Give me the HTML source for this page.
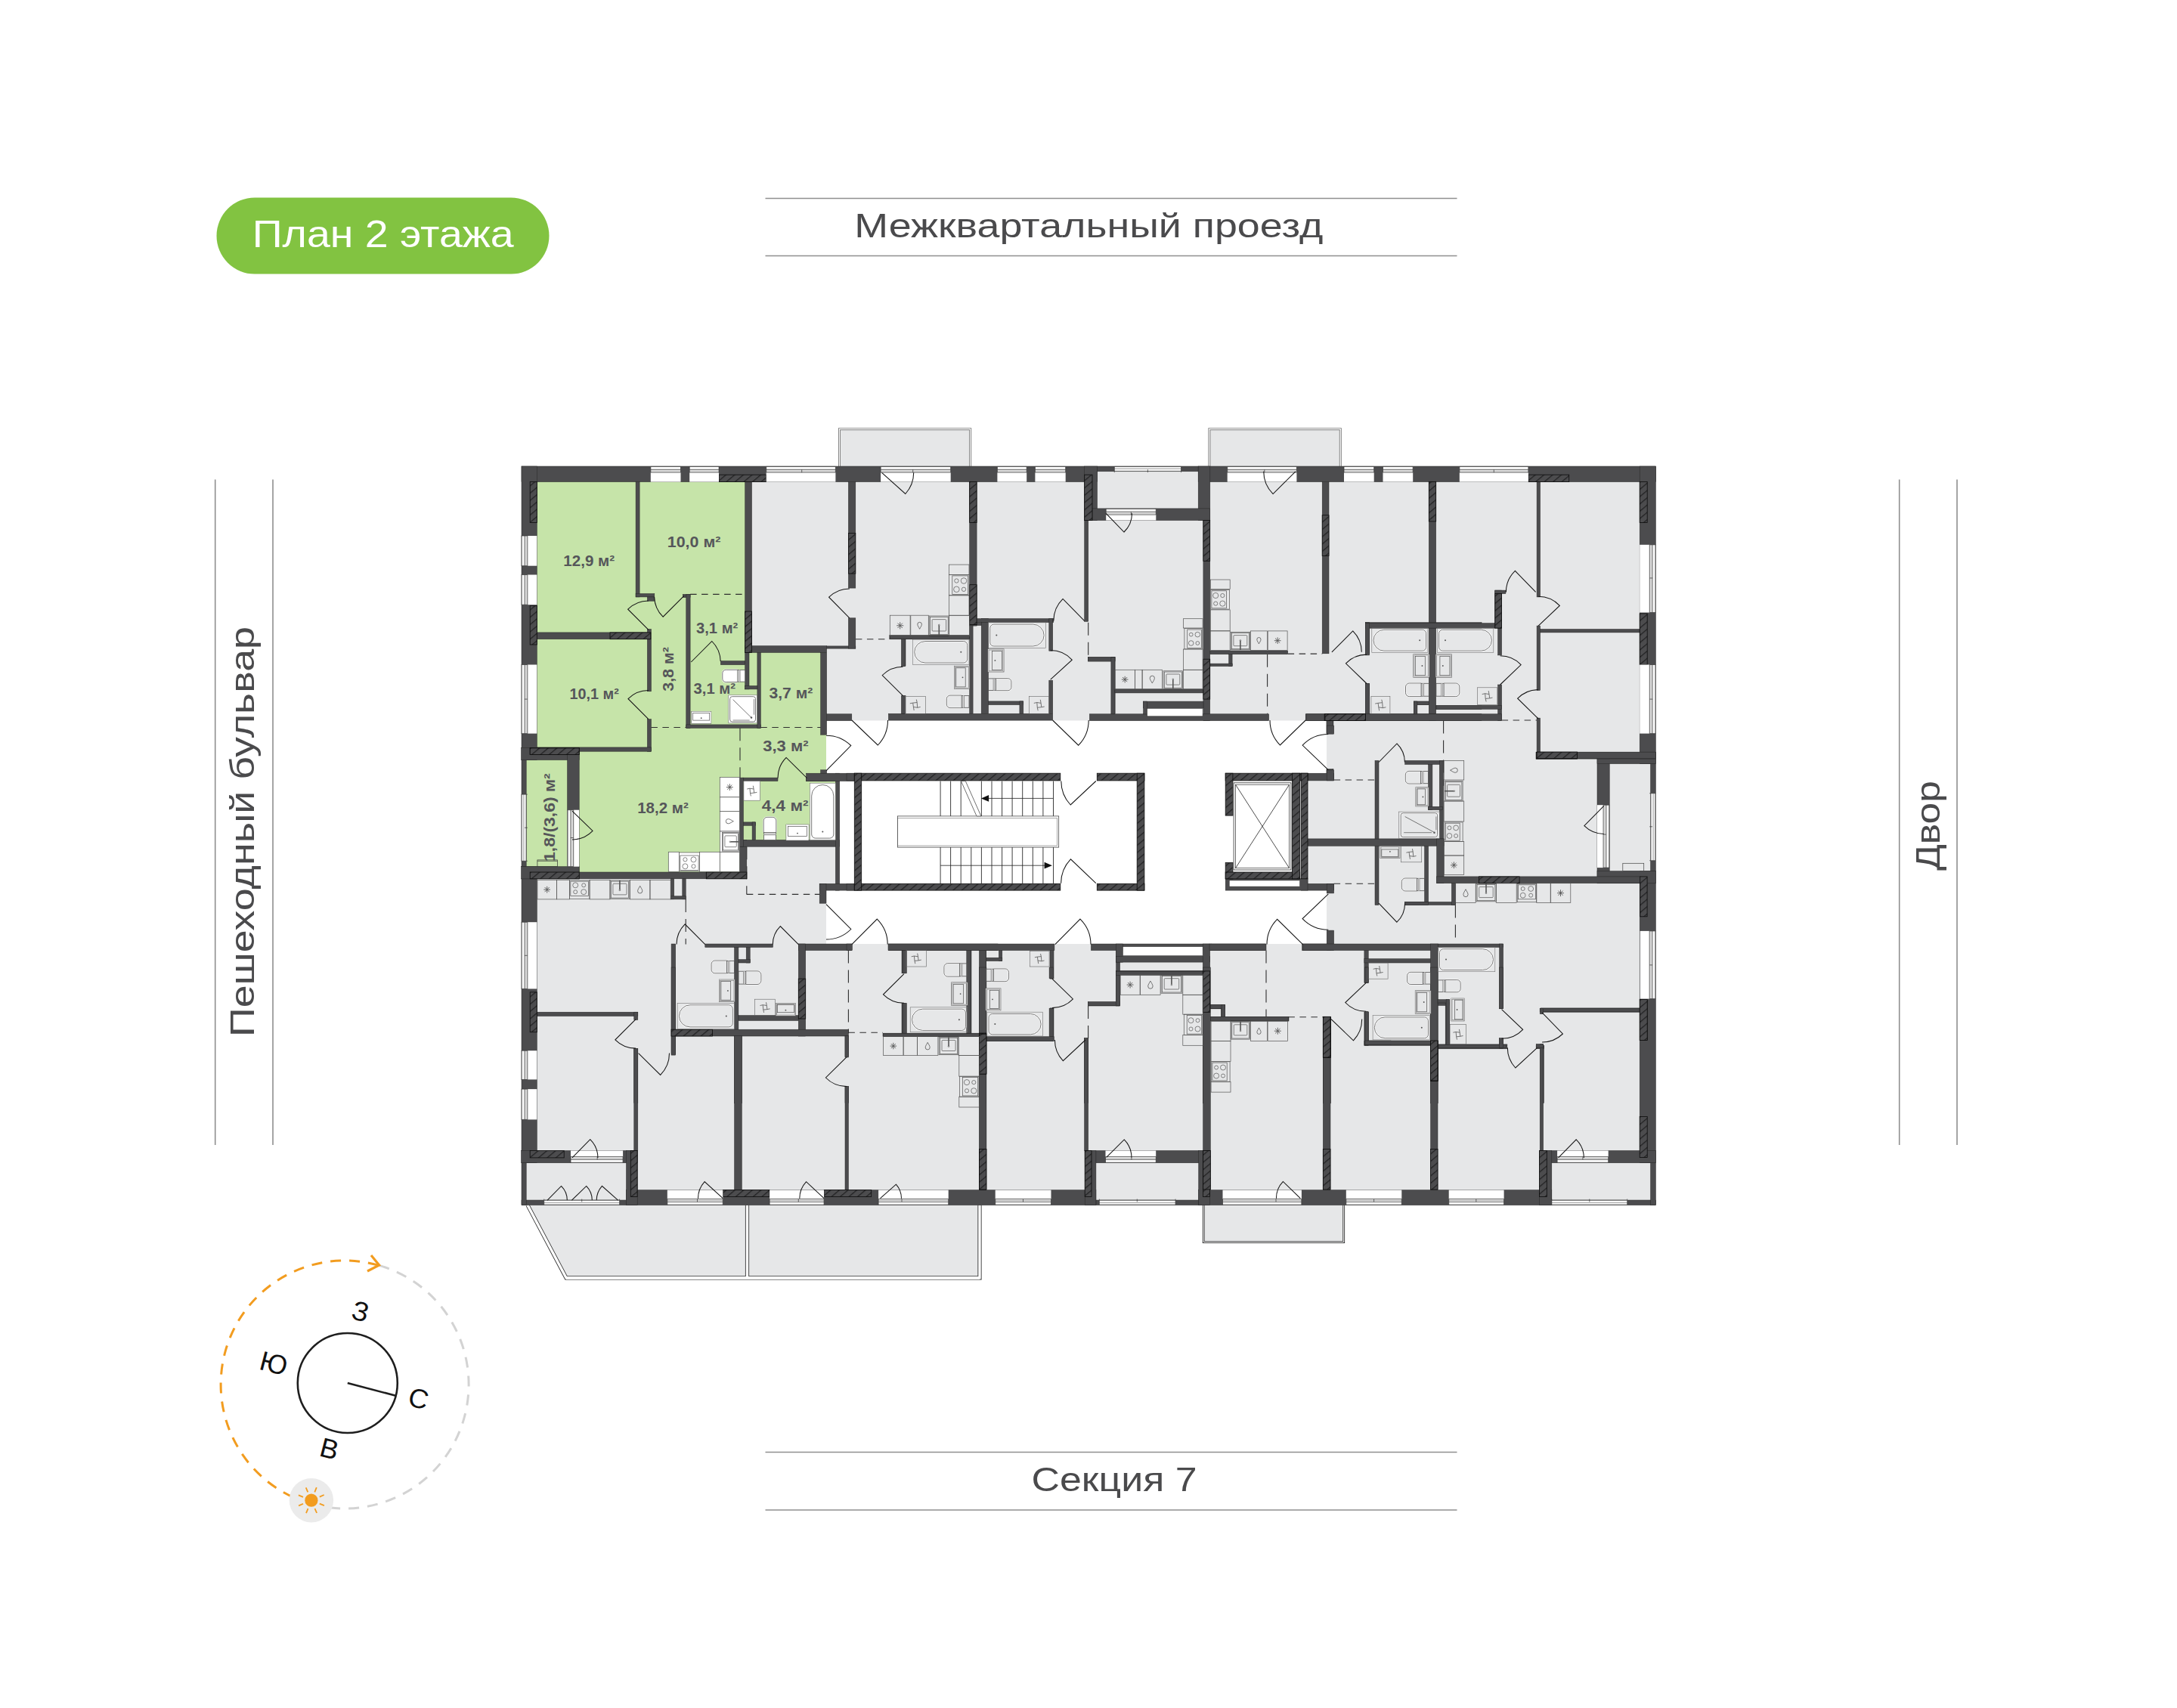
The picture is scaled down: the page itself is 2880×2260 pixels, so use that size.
<!DOCTYPE html>
<html><head><meta charset="utf-8"><title>План 2 этажа</title>
<style>html,body{margin:0;padding:0;background:#fff}svg{display:block}text{font-family:"Liberation Sans",sans-serif}</style></head>
<body>
<svg width="2880" height="2260" viewBox="0 0 2880 2260">
<defs><pattern id="hp" width="7.4" height="7.4" patternUnits="userSpaceOnUse" patternTransform="rotate(-40)"><rect width="7.4" height="7.4" fill="#4c4c4e"/><path d="M0 3.5H7.4" stroke="#0c0c0c" stroke-width="0.85"/></pattern></defs>
<rect width="2880" height="2260" fill="#fff"/>
<g><rect x="690" y="617" width="1500" height="977.6" fill="#e6e7e8"/>
<rect x="1110.5" y="567.7" width="173.2" height="49.3" fill="#e6e7e8"/>
<path d="M1110.5 617L1110.5 567.7L1283.7 567.7L1283.7 617" fill="none" stroke="#777" stroke-width="3.0"/>
<path d="M1110.5 617L1110.5 567.7L1283.7 567.7L1283.7 617" fill="none" stroke="#fff" stroke-width="1.2"/>
<rect x="1599.9" y="567.7" width="173.4" height="49.3" fill="#e6e7e8"/>
<path d="M1599.9 617L1599.9 567.7L1773.3 567.7L1773.3 617" fill="none" stroke="#777" stroke-width="3.0"/>
<path d="M1599.9 617L1599.9 567.7L1773.3 567.7L1773.3 617" fill="none" stroke="#fff" stroke-width="1.2"/>
<rect x="1592.2" y="1594.6" width="185.5" height="49" fill="#e6e7e8"/>
<path d="M1592.2 1594.6L1592.2 1643.6L1777.7 1643.6L1777.7 1594.6" fill="none" stroke="#333" stroke-width="2.8"/>
<path d="M1592.2 1594.6L1592.2 1643.6L1777.7 1643.6L1777.7 1594.6" fill="none" stroke="#fff" stroke-width="1.0"/>
<rect x="988.5" y="1594.6" width="307.5" height="96.3" fill="#e6e7e8"/>
<path d="M698 1594.6L749 1690.9L988.5 1690.9L988.5 1594.6Z" fill="#e6e7e8"/>
<path d="M698 1594.6L749 1690.9L1296 1690.9L1296 1594.6" fill="none" stroke="#333" stroke-width="5.2"/>
<path d="M698 1594.6L749 1690.9L1296 1690.9L1296 1594.6" fill="none" stroke="#fff" stroke-width="3.4"/>
<path d="M988.5 1594.6L988.5 1690.9" fill="none" stroke="#333" stroke-width="5.2"/>
<path d="M988.5 1594.6L988.5 1690.9" fill="none" stroke="#fff" stroke-width="3.4"/>
<path d="M749 1690.9L1296 1690.9" fill="none" stroke="#fff" stroke-width="3.7"/>
<path d="M1093 953.6H1755V1023H1730V1178H1755V1249H1093V1178H1110V1023H1093Z" fill="#fff"/>
<path d="M700 630H990V860H1093V1030H1106V1115H983V1158H766V1150H696.2V1003H700Z" fill="#c6e4a9"/></g>
<g fill="none" stroke="#2e2e2e" stroke-width="1.1" stroke-dasharray="8.5 6.5"><path d="M913.1 786.4L985.7 786.4" />
<path d="M861.4 962.5L907.8 962.5" />
<path d="M1006.3 962.5L1085.7 962.5" />
<path d="M979 963.3L979 1039.8" stroke-dasharray="17 9"/>
<path d="M1131.9 845.7L1176.8 845.7" />
<path d="M1439.7 823.7L1439.7 869.8" stroke-dasharray="17 9"/>
<path d="M1676.6 865.7L1676.6 944.8" stroke-dasharray="17 9"/>
<path d="M1703.6 865.1L1749.2 865.1" />
<path d="M1986.6 953L2033.1 953" />
<path d="M1909.6 953.6L1909.6 1039.8" stroke-dasharray="17 9"/>
<path d="M987.8 1120.2L987.8 1183.4" stroke-dasharray="17 9"/>
<path d="M987.8 1183.4L1084.2 1183.4" />
<path d="M907.2 1189.9L907.2 1249.6" stroke-dasharray="17 9"/>
<path d="M1122.4 1257.5L1122.4 1367.2" stroke-dasharray="17 9"/>
<path d="M1122.4 1366.3L1168 1366.3" />
<path d="M1439.6 1331L1439.6 1373.9" stroke-dasharray="17 9"/>
<path d="M1764.6 1032L1819 1032" />
<path d="M1764.6 1169.3L1819 1169.3" />
<path d="M1925.4 1197.5L1925.4 1249" stroke-dasharray="17 9"/>
<path d="M1675 1257.5L1675 1345.7" stroke-dasharray="17 9"/>
<path d="M1704.4 1345.7L1750.5 1345.7" /></g>
<g fill="#4c4c4e" stroke="#262626" stroke-width="0.5"><rect x="690" y="617" width="761.4" height="20.6" />
<rect x="1451.4" y="617" width="133.8" height="6.8" />
<rect x="1585.2" y="617" width="605.2" height="20.6" />
<rect x="690" y="1588" width="138.5" height="6.6" />
<rect x="828.5" y="1574.6" width="621.4" height="20" />
<rect x="1449.9" y="1588" width="135.8" height="6.6" />
<rect x="1585.7" y="1574.6" width="467.1" height="20" />
<rect x="2052.8" y="1588" width="137.6" height="6.6" />
<rect x="690" y="617" width="20.3" height="388.6" />
<rect x="690" y="1005.6" width="6.2" height="141.1" />
<rect x="690" y="1146.7" width="20.3" height="392" />
<rect x="690" y="1538.7" width="6.2" height="55.9" />
<rect x="2169.2" y="617" width="21.2" height="393.6" />
<rect x="2183.6" y="1010.6" width="6.8" height="142" />
<rect x="2169.2" y="1152.6" width="21.2" height="386.1" />
<rect x="2183.6" y="1538.7" width="6.8" height="55.9" />
<rect x="1434.7" y="617" width="16.8" height="71.4" />
<rect x="1585.2" y="617" width="15.6" height="71.4" />
<rect x="1444.9" y="672.9" width="155.8" height="15.6" />
<rect x="1435.2" y="1522.5" width="165.2" height="16.2" />
<rect x="1435.2" y="1522.5" width="14.7" height="72" />
<rect x="1585.7" y="1522.5" width="14.7" height="72" />
<rect x="689.7" y="989.4" width="76.4" height="16.2" />
<rect x="750.6" y="998.2" width="15.6" height="164.6" />
<rect x="689.7" y="1146.7" width="76.4" height="16.2" />
<rect x="2032.2" y="995.3" width="158.2" height="8.8" />
<rect x="2113" y="995.3" width="16.2" height="173.4" />
<rect x="2113" y="1004.1" width="77.3" height="6.5" />
<rect x="2113" y="1152.6" width="77.3" height="16.2" />
<rect x="689.7" y="1522.5" width="153.5" height="16.2" />
<rect x="828.5" y="1522.5" width="14.7" height="72" />
<rect x="2036.6" y="1522.5" width="153.8" height="16.2" />
<rect x="2036.6" y="1522.5" width="16.2" height="72" />
<rect x="841.1" y="637.6" width="5" height="152.3" />
<rect x="841.1" y="785.5" width="24.7" height="4.4" />
<rect x="856.4" y="789.9" width="9.4" height="5.3" />
<rect x="985.7" y="637.6" width="8.8" height="225.8" />
<rect x="985.7" y="854.6" width="107.9" height="8.8" />
<rect x="1093.6" y="854.9" width="38.2" height="3.2" />
<rect x="1122.4" y="637.6" width="9.4" height="140.5" />
<rect x="1122.4" y="817.8" width="9.4" height="40.3" />
<rect x="1085.7" y="863.4" width="7.9" height="108.8" />
<rect x="710.3" y="836.9" width="150.5" height="8.8" />
<rect x="856.4" y="832.5" width="5" height="82.3" />
<rect x="856.4" y="951.6" width="5" height="42.6" />
<rect x="710.3" y="988.9" width="151.1" height="5.3" />
<rect x="903.4" y="786.4" width="9.7" height="4.1" />
<rect x="907.8" y="786.4" width="5.3" height="177" />
<rect x="907.8" y="958.9" width="98.5" height="4.4" />
<rect x="1001.9" y="863.4" width="4.4" height="100" />
<rect x="953.4" y="874.6" width="32.3" height="5" />
<rect x="985.7" y="863.4" width="5.3" height="48.5" />
<rect x="985.7" y="907.5" width="16.2" height="4.4" />
<rect x="1176.8" y="840.5" width="105.8" height="5.3" />
<rect x="1193" y="845.7" width="5" height="35.3" />
<rect x="1193" y="920.7" width="5" height="24.1" />
<rect x="1282.7" y="637.6" width="9.4" height="190.5" />
<rect x="1282.7" y="827.5" width="4.4" height="116.9" />
<rect x="1298.2" y="818.6" width="9.3" height="125.7" />
<rect x="1291.6" y="818.6" width="102.2" height="4.9" />
<rect x="1291.6" y="823.5" width="6.6" height="4" />
<rect x="1387.8" y="818.6" width="4.9" height="42.6" />
<rect x="1387.8" y="900.2" width="4.9" height="44.1" />
<rect x="1175.4" y="944.3" width="217.3" height="8.8" />
<rect x="1177.3" y="841.4" width="105.4" height="4.1" />
<rect x="1192.6" y="845.5" width="4.9" height="36.3" />
<rect x="1192.6" y="920.8" width="4.9" height="23.5" />
<rect x="1307.4" y="927.9" width="46.3" height="4.7" />
<rect x="1348.9" y="927.9" width="4.9" height="16.5" />
<rect x="1439.3" y="869.6" width="35.7" height="4.9" />
<rect x="1470.2" y="869.6" width="4.9" height="74.7" />
<rect x="1093.6" y="944.8" width="33.2" height="8.8" />
<rect x="1434.7" y="688.5" width="5" height="133.8" />
<rect x="1591.9" y="688.5" width="8.8" height="265.2" />
<rect x="1749.2" y="637.6" width="8.8" height="227.2" />
<rect x="1890.3" y="637.6" width="9.4" height="316" />
<rect x="1441.4" y="944.8" width="237.2" height="8.8" />
<rect x="1727.2" y="944.8" width="232.8" height="8.8" />
<rect x="1439.7" y="869.8" width="35.3" height="5.3" />
<rect x="1469.9" y="869.8" width="5" height="75" />
<rect x="1474.9" y="911.9" width="117" height="5" />
<rect x="1512.6" y="928.1" width="79.4" height="8.8" />
<rect x="1512.6" y="928.1" width="5" height="16.8" />
<rect x="1600.8" y="861" width="102.9" height="4.7" />
<rect x="1625.7" y="865.7" width="4.4" height="15.9" />
<rect x="1600.8" y="878.1" width="29.4" height="3.5" />
<rect x="1806.5" y="823.7" width="153.5" height="7.3" />
<rect x="1806.5" y="823.7" width="5" height="41.2" />
<rect x="1806.5" y="904.5" width="5" height="40.3" />
<rect x="1870.3" y="928.1" width="20" height="4.4" />
<rect x="1870.3" y="928.1" width="4.4" height="16.8" />
<rect x="1899.7" y="933.9" width="60.3" height="4.4" />
<rect x="1755.1" y="953.6" width="8.8" height="17.1" />
<rect x="1755.1" y="1017.7" width="8.8" height="11.8" />
<rect x="1806.4" y="824.6" width="171.4" height="6.5" />
<rect x="1806.4" y="824.6" width="5.3" height="42.3" />
<rect x="1806.4" y="904.5" width="5.3" height="41.2" />
<rect x="1981.6" y="831" width="5" height="35.9" />
<rect x="1981.6" y="906" width="5" height="47.6" />
<rect x="1977.8" y="781.1" width="8.8" height="50" />
<rect x="1977.8" y="781.1" width="14.1" height="4.4" />
<rect x="1727.9" y="944.8" width="258.7" height="8.8" />
<rect x="1870.5" y="928.1" width="20" height="4.4" />
<rect x="1870.5" y="928.1" width="4.4" height="16.8" />
<rect x="1899.9" y="933.3" width="86.7" height="5" />
<rect x="2033.1" y="637.6" width="4.4" height="152.3" />
<rect x="2033.1" y="828.1" width="4.4" height="85.3" />
<rect x="2033.1" y="950.1" width="4.4" height="45.6" />
<rect x="2037.5" y="832.5" width="131.7" height="4.4" />
<rect x="2033.1" y="995.1" width="157.3" height="8.5" />
<rect x="1755" y="953.6" width="8.8" height="17.1" />
<rect x="1755" y="1018.6" width="8.8" height="10.9" />
<rect x="766.1" y="1154" width="221.7" height="8.8" />
<rect x="978.4" y="1111.4" width="9.4" height="51.4" />
<rect x="978.4" y="1111.4" width="132.3" height="8.8" />
<rect x="1105.4" y="1023.2" width="5.3" height="154.9" />
<rect x="982.8" y="1029.1" width="46.2" height="4.4" />
<rect x="1066.6" y="1028.2" width="38.8" height="5.3" />
<rect x="978.4" y="1029.1" width="5" height="91.1" />
<rect x="983.4" y="1087.9" width="16.2" height="4.4" />
<rect x="995.1" y="1087.9" width="4.4" height="23.5" />
<rect x="1085.7" y="1018.8" width="7.9" height="14.7" />
<rect x="1066.6" y="1023.2" width="63.2" height="10.3" />
<rect x="1084.2" y="1169.3" width="45.6" height="8.8" />
<rect x="1084.2" y="1169.3" width="8.8" height="25.9" />
<rect x="887.3" y="1162.8" width="4.4" height="27" />
<rect x="902.8" y="1162.8" width="4.4" height="27" />
<rect x="887.3" y="1185.8" width="20" height="4.1" />
<rect x="888.1" y="1249" width="5.6" height="146.1" />
<rect x="932.8" y="1249" width="89.7" height="4.4" />
<rect x="971.6" y="1253.4" width="5.3" height="108.8" />
<rect x="987.2" y="1253.4" width="5" height="20.6" />
<rect x="976.9" y="1269.6" width="15.3" height="4.4" />
<rect x="1056.3" y="1249" width="70.6" height="8.5" />
<rect x="1056.3" y="1249" width="9.4" height="122" />
<rect x="976.9" y="1343.6" width="79.4" height="6.8" />
<rect x="888.1" y="1362.2" width="234.3" height="8.8" />
<rect x="971.6" y="1371" width="9.7" height="88.8" />
<rect x="1118" y="1371" width="4.4" height="27" />
<rect x="1118" y="1437.7" width="4.4" height="22" />
<rect x="710.3" y="1339.2" width="133.5" height="5.3" />
<rect x="838.8" y="1339.2" width="5" height="10.3" />
<rect x="838.8" y="1387.7" width="5" height="72" />
<rect x="1193" y="1257.5" width="5" height="30.3" />
<rect x="1193" y="1327.5" width="5" height="39.7" />
<rect x="1175.4" y="1249" width="144.6" height="8.5" />
<rect x="1279.7" y="1257.5" width="5.3" height="109.7" />
<rect x="1295.9" y="1257.5" width="8.8" height="202.3" />
<rect x="1168" y="1367.2" width="136.7" height="4.4" />
<rect x="1120" y="1023.2" width="10.3" height="9.7" />
<rect x="1120" y="1169.3" width="10.3" height="8.8" />
<rect x="1721.2" y="1162.8" width="8.8" height="15.3" />
<rect x="1621.2" y="1162.8" width="108.8" height="15.3" />
<rect x="1120" y="1249" width="7.3" height="8.5" />
<rect x="1175" y="1249" width="219.9" height="8.5" />
<rect x="1443.4" y="1249" width="158.8" height="8.5" />
<rect x="1476.6" y="1257.5" width="5" height="73.5" />
<rect x="1476.6" y="1249" width="8.8" height="24.1" />
<rect x="1476.6" y="1265.2" width="124.1" height="7.9" />
<rect x="1476.6" y="1284.3" width="124.1" height="5" />
<rect x="1591.3" y="1249" width="9.4" height="210.8" />
<rect x="1602.1" y="1249" width="72" height="8.5" />
<rect x="1722.7" y="1249" width="37.3" height="8.5" />
<rect x="1439.6" y="1326" width="42" height="5" />
<rect x="1194.1" y="1257.5" width="5.3" height="30.3" />
<rect x="1194.1" y="1327.5" width="5.3" height="39.7" />
<rect x="1168.5" y="1367.2" width="127.9" height="4.4" />
<rect x="1278.8" y="1257.5" width="5.3" height="109.7" />
<rect x="1295.8" y="1257.5" width="8.8" height="202.3" />
<rect x="1321.4" y="1257.5" width="4.4" height="14.1" />
<rect x="1304.6" y="1267.2" width="21.2" height="4.4" />
<rect x="1389" y="1257.5" width="5" height="37.6" />
<rect x="1389" y="1333.9" width="5" height="43.5" />
<rect x="1304.6" y="1372.2" width="89.4" height="5.3" />
<rect x="1434.6" y="1373.9" width="5" height="85.8" />
<rect x="1602.1" y="1329.8" width="17.6" height="5" />
<rect x="1615.4" y="1329.8" width="4.4" height="18.2" />
<rect x="1602.1" y="1345.7" width="102.9" height="5.3" />
<rect x="1750.6" y="1345.7" width="9.4" height="114.1" />
<rect x="1755.2" y="960" width="9.4" height="11.2" />
<rect x="1730.2" y="1023.2" width="34.4" height="9.7" />
<rect x="1755.2" y="1018.8" width="9.4" height="14.1" />
<rect x="1730.2" y="1169.3" width="34.4" height="8.8" />
<rect x="1755.2" y="1169.3" width="9.4" height="12.6" />
<rect x="1755.2" y="1231.1" width="9.4" height="26.5" />
<rect x="1730.2" y="1109.9" width="179.9" height="9.4" />
<rect x="1819" y="1006.4" width="5" height="103.5" />
<rect x="1819" y="1119.3" width="5" height="78.2" />
<rect x="1858.7" y="1006.4" width="50.9" height="5" />
<rect x="1889.6" y="1011.4" width="5.3" height="60.3" />
<rect x="1904.3" y="1006.4" width="5.3" height="103.5" />
<rect x="1889.6" y="1067.3" width="19.1" height="4.4" />
<rect x="1900.7" y="1109.9" width="9.4" height="58.8" />
<rect x="1900.7" y="1159.9" width="269.6" height="8.8" />
<rect x="1884.6" y="1119.3" width="5" height="74.4" />
<rect x="1858.7" y="1193.4" width="67" height="4.1" />
<rect x="1920.4" y="1168.7" width="5.3" height="28.8" />
<rect x="1858.7" y="1193.7" width="30.9" height="3.8" />
<rect x="1600" y="1249" width="75" height="8.5" />
<rect x="1723.5" y="1249" width="178.7" height="8.5" />
<rect x="1902.2" y="1249" width="86.4" height="4.4" />
<rect x="1983.6" y="1249" width="5" height="85.8" />
<rect x="1983.6" y="1374.5" width="5" height="13.2" />
<rect x="1804.9" y="1257.5" width="5.3" height="42.9" />
<rect x="1804.9" y="1339.2" width="5.3" height="44.1" />
<rect x="1804.9" y="1268.7" width="87.6" height="5.3" />
<rect x="1804.9" y="1377.5" width="87.6" height="5.9" />
<rect x="1892.5" y="1249" width="9.7" height="210.8" />
<rect x="1902.2" y="1326" width="15.3" height="4.4" />
<rect x="1912.2" y="1326" width="5.3" height="57.3" />
<rect x="1902.2" y="1381.9" width="91.7" height="5.9" />
<rect x="2038" y="1333.9" width="131.7" height="5.3" />
<rect x="2038" y="1383.3" width="4.4" height="76.4" />
<rect x="2032.2" y="1383.3" width="10.3" height="4.4" />
<rect x="1750.5" y="1345.7" width="9.7" height="114.1" />
<rect x="1600" y="1329.8" width="20.6" height="5" />
<rect x="1616.2" y="1329.8" width="4.4" height="18.2" />
<rect x="1600" y="1345.7" width="104.4" height="5.3" />
<rect x="838.8" y="1387.3" width="5" height="135.2" />
<rect x="888.1" y="1280" width="5.6" height="116.1" />
<rect x="971.6" y="1370.5" width="9.7" height="204" />
<rect x="1118" y="1370.5" width="4.4" height="28.5" />
<rect x="1118" y="1437.3" width="4.4" height="137.3" />
<rect x="1295.9" y="1368.2" width="8.8" height="206.4" />
<rect x="1295.5" y="1280" width="9.4" height="294.6" />
<rect x="1305" y="1371.7" width="89.1" height="5.9" />
<rect x="1388.1" y="1280" width="5.3" height="14.7" />
<rect x="1388.1" y="1334.4" width="5.3" height="37.3" />
<rect x="1434.6" y="1373.5" width="5" height="149" />
<rect x="1439.6" y="1325.6" width="42" height="5" />
<rect x="1476.3" y="1285.9" width="5.3" height="44.7" />
<rect x="1476.3" y="1285.3" width="115.2" height="5" />
<rect x="1591.6" y="1280" width="9.7" height="294.6" />
<rect x="1601.3" y="1329.4" width="19.1" height="5" />
<rect x="1616" y="1329.4" width="4.4" height="18.2" />
<rect x="1601.3" y="1345.3" width="102.9" height="5.3" />
<rect x="1750.3" y="1345.3" width="9.7" height="229.3" />
<rect x="1805.6" y="1280" width="4.4" height="20.6" />
<rect x="1805.6" y="1338.8" width="4.4" height="42.6" />
<rect x="1805.6" y="1377" width="34.4" height="5.3" />
<rect x="1805.8" y="1280" width="4.4" height="20.6" />
<rect x="1805.8" y="1338.8" width="4.4" height="43.5" />
<rect x="1805.8" y="1377" width="86.7" height="5.3" />
<rect x="1892.6" y="1280" width="9.4" height="294.6" />
<rect x="1902" y="1322.6" width="15.6" height="4.4" />
<rect x="1913.1" y="1322.6" width="4.4" height="59.7" />
<rect x="1902" y="1382.3" width="90.5" height="4.1" />
<rect x="1983.7" y="1280" width="5" height="54.4" />
<rect x="1983.7" y="1373.5" width="5" height="12.9" />
<rect x="2037.2" y="1334.4" width="132" height="4.4" />
<rect x="2037.2" y="1334.4" width="4.4" height="7.3" />
<rect x="2037.2" y="1381.4" width="4.4" height="141.1" />
<rect x="2032.2" y="1381.4" width="9.4" height="5" /></g>
<g fill="url(#hp)" stroke="#0c0c0c" stroke-width="0.8"><rect x="1434.7" y="628.2" width="10.3" height="60.3" />
<rect x="1435.2" y="1522.5" width="8.8" height="60.9" />
<rect x="1591.6" y="1522.5" width="8.8" height="60.9" />
<rect x="701.2" y="989.4" width="65" height="8.8" />
<rect x="701.2" y="1154" width="65" height="8.8" />
<rect x="2032.2" y="995.3" width="54.4" height="8.8" />
<rect x="701.2" y="1522.5" width="45" height="9.4" />
<rect x="834.3" y="1522.5" width="8.8" height="60.9" />
<rect x="2036.6" y="1522.5" width="9.7" height="60.9" />
<rect x="701.2" y="637.6" width="9.1" height="53.8" />
<rect x="701.2" y="801.6" width="9.1" height="51.4" />
<rect x="951.1" y="628.2" width="62.6" height="9.4" />
<rect x="701.2" y="1312.8" width="9.1" height="52.9" />
<rect x="2021.9" y="628.2" width="53.8" height="9.4" />
<rect x="2169.2" y="637.6" width="10" height="53.8" />
<rect x="2169.2" y="811.9" width="10" height="67.6" />
<rect x="2169.7" y="1159.9" width="9.4" height="52.9" />
<rect x="2169.7" y="1323.1" width="9.4" height="52.9" />
<rect x="2169.2" y="1322.6" width="10" height="53.8" />
<rect x="2169.2" y="1477.6" width="10" height="53.8" />
<rect x="956.3" y="1574.6" width="61.7" height="8.8" />
<rect x="1090.1" y="1574.6" width="62.6" height="8.8" />
<rect x="985.7" y="809" width="8.8" height="54.4" />
<rect x="1122.4" y="705.5" width="9.4" height="53.5" />
<rect x="807" y="836.9" width="53.8" height="8.8" />
<rect x="701.2" y="989.8" width="65" height="8.8" />
<rect x="1282.7" y="637.6" width="9.4" height="53.8" />
<rect x="1282.7" y="773.7" width="9.4" height="52.9" />
<rect x="1591.9" y="688.5" width="8.8" height="53.8" />
<rect x="1591.9" y="872.2" width="8.8" height="52.9" />
<rect x="1749.2" y="681.7" width="8.8" height="53.8" />
<rect x="1890.3" y="637.6" width="9.4" height="52.3" />
<rect x="1752.2" y="944.8" width="54.4" height="8.8" />
<rect x="1977.8" y="785.5" width="8.8" height="45.6" />
<rect x="1752.9" y="944.8" width="53.5" height="8.8" />
<rect x="2033.1" y="995.1" width="53.5" height="8.5" />
<rect x="934.3" y="1154" width="53.5" height="8.8" />
<rect x="1056.3" y="1295.1" width="9.4" height="52.9" />
<rect x="888.1" y="1362.2" width="54.4" height="8.8" />
<rect x="1295.9" y="1367.2" width="8.8" height="52.9" />
<rect x="1130.3" y="1023.2" width="272.5" height="9.7" />
<rect x="1451.3" y="1023.2" width="62.6" height="9.7" />
<rect x="1130.3" y="1169.3" width="272.5" height="8.8" />
<rect x="1451.3" y="1169.3" width="62.6" height="8.8" />
<rect x="1130.3" y="1023.2" width="9.4" height="154.9" />
<rect x="1504.2" y="1023.2" width="9.7" height="154.9" />
<rect x="1621.2" y="1023.2" width="108.8" height="9.7" />
<rect x="1621.2" y="1023.2" width="9.7" height="55.9" />
<rect x="1621.2" y="1141.4" width="9.7" height="21.5" />
<rect x="1621.2" y="1154" width="98.5" height="8.8" />
<rect x="1709.4" y="1023.2" width="10.3" height="139.6" />
<rect x="1721.2" y="1023.2" width="8.8" height="139.6" />
<rect x="1591.3" y="1284.9" width="9.4" height="54.4" />
<rect x="1295.8" y="1367.2" width="8.8" height="52.9" />
<rect x="1750.6" y="1345.7" width="9.4" height="52.3" />
<rect x="1956.6" y="1159.9" width="53.5" height="8.8" />
<rect x="1892.5" y="1377.5" width="9.7" height="52.9" />
<rect x="1750.5" y="1345.7" width="9.7" height="53.8" />
<rect x="1295.9" y="1368.2" width="8.8" height="52.9" />
<rect x="1295.9" y="1520.5" width="8.8" height="53.5" />
<rect x="1295.5" y="1368.2" width="9.4" height="52.9" />
<rect x="1295.5" y="1520.5" width="9.4" height="53.5" />
<rect x="1591.6" y="1522.5" width="9.7" height="51.4" />
<rect x="1750.3" y="1345.3" width="9.7" height="53.8" />
<rect x="1750.3" y="1520.5" width="9.7" height="53.5" />
<rect x="1892.6" y="1377" width="9.4" height="52.9" />
<rect x="1892.6" y="1520.5" width="9.4" height="53.5" /></g>
<g fill="none" stroke="#333"><rect x="860.8" y="617" width="39.7" height="20.6" fill="#fff" stroke="none"/>
<path d="M860.8 617.4L900.5 617.4" stroke-width="0.9"/>
<path d="M860.8 621.3L900.5 621.3" stroke-width="0.8"/>
<path d="M860.8 623.2L900.5 623.2" stroke-width="0.4"/>
<path d="M860.8 625.1L900.5 625.1" stroke-width="0.8"/>
<path d="M860.8 617L860.8 625.1" stroke-width="0.7"/>
<path d="M900.5 617L900.5 625.1" stroke-width="0.7"/>
<rect x="912.2" y="617" width="38.8" height="20.6" fill="#fff" stroke="none"/>
<path d="M912.2 617.4L951.1 617.4" stroke-width="0.9"/>
<path d="M912.2 621.3L951.1 621.3" stroke-width="0.8"/>
<path d="M912.2 623.2L951.1 623.2" stroke-width="0.4"/>
<path d="M912.2 625.1L951.1 625.1" stroke-width="0.8"/>
<path d="M912.2 617L912.2 625.1" stroke-width="0.7"/>
<path d="M951.1 617L951.1 625.1" stroke-width="0.7"/>
<rect x="1013.7" y="617" width="91.7" height="20.6" fill="#fff" stroke="none"/>
<path d="M1013.7 617.4L1105.4 617.4" stroke-width="0.9"/>
<path d="M1013.7 621.3L1105.4 621.3" stroke-width="0.8"/>
<path d="M1013.7 623.2L1105.4 623.2" stroke-width="0.4"/>
<path d="M1013.7 625.1L1105.4 625.1" stroke-width="0.8"/>
<path d="M1013.7 617L1013.7 625.1" stroke-width="0.7"/>
<path d="M1105.4 617L1105.4 625.1" stroke-width="0.7"/>
<path d="M1060.7 621.3L1060.7 625.1" stroke-width="0.7"/>
<rect x="1165.1" y="617" width="92.6" height="20.6" fill="#fff" stroke="none"/>
<path d="M1165.1 617.4L1257.7 617.4" stroke-width="0.9"/>
<path d="M1165.1 621.3L1257.7 621.3" stroke-width="0.8"/>
<path d="M1165.1 623.2L1257.7 623.2" stroke-width="0.4"/>
<path d="M1165.1 625.1L1257.7 625.1" stroke-width="0.8"/>
<path d="M1165.1 617L1165.1 625.1" stroke-width="0.7"/>
<path d="M1257.7 617L1257.7 625.1" stroke-width="0.7"/>
<path d="M1207.7 621.3L1207.7 625.1" stroke-width="0.7"/>
<rect x="1319.4" y="617" width="38.8" height="20.6" fill="#fff" stroke="none"/>
<path d="M1319.4 617.4L1358.2 617.4" stroke-width="0.9"/>
<path d="M1319.4 621.3L1358.2 621.3" stroke-width="0.8"/>
<path d="M1319.4 623.2L1358.2 623.2" stroke-width="0.4"/>
<path d="M1319.4 625.1L1358.2 625.1" stroke-width="0.8"/>
<path d="M1319.4 617L1319.4 625.1" stroke-width="0.7"/>
<path d="M1358.2 617L1358.2 625.1" stroke-width="0.7"/>
<rect x="1369.4" y="617" width="40.3" height="20.6" fill="#fff" stroke="none"/>
<path d="M1369.4 617.4L1409.7 617.4" stroke-width="0.9"/>
<path d="M1369.4 621.3L1409.7 621.3" stroke-width="0.8"/>
<path d="M1369.4 623.2L1409.7 623.2" stroke-width="0.4"/>
<path d="M1369.4 625.1L1409.7 625.1" stroke-width="0.8"/>
<path d="M1369.4 617L1369.4 625.1" stroke-width="0.7"/>
<path d="M1409.7 617L1409.7 625.1" stroke-width="0.7"/>
<rect x="1623.7" y="617" width="91.7" height="20.6" fill="#fff" stroke="none"/>
<path d="M1623.7 617.4L1715.4 617.4" stroke-width="0.9"/>
<path d="M1623.7 621.3L1715.4 621.3" stroke-width="0.8"/>
<path d="M1623.7 623.2L1715.4 623.2" stroke-width="0.4"/>
<path d="M1623.7 625.1L1715.4 625.1" stroke-width="0.8"/>
<path d="M1623.7 617L1623.7 625.1" stroke-width="0.7"/>
<path d="M1715.4 617L1715.4 625.1" stroke-width="0.7"/>
<path d="M1672.8 621.3L1672.8 625.1" stroke-width="0.7"/>
<rect x="1778" y="617" width="39.7" height="20.6" fill="#fff" stroke="none"/>
<path d="M1778 617.4L1817.7 617.4" stroke-width="0.9"/>
<path d="M1778 621.3L1817.7 621.3" stroke-width="0.8"/>
<path d="M1778 623.2L1817.7 623.2" stroke-width="0.4"/>
<path d="M1778 625.1L1817.7 625.1" stroke-width="0.8"/>
<path d="M1778 617L1778 625.1" stroke-width="0.7"/>
<path d="M1817.7 617L1817.7 625.1" stroke-width="0.7"/>
<rect x="1829.5" y="617" width="39.7" height="20.6" fill="#fff" stroke="none"/>
<path d="M1829.5 617.4L1869.2 617.4" stroke-width="0.9"/>
<path d="M1829.5 621.3L1869.2 621.3" stroke-width="0.8"/>
<path d="M1829.5 623.2L1869.2 623.2" stroke-width="0.4"/>
<path d="M1829.5 625.1L1869.2 625.1" stroke-width="0.8"/>
<path d="M1829.5 617L1829.5 625.1" stroke-width="0.7"/>
<path d="M1869.2 617L1869.2 625.1" stroke-width="0.7"/>
<rect x="1930.8" y="617" width="91.1" height="20.6" fill="#fff" stroke="none"/>
<path d="M1930.8 617.4L2021.9 617.4" stroke-width="0.9"/>
<path d="M1930.8 621.3L2021.9 621.3" stroke-width="0.8"/>
<path d="M1930.8 623.2L2021.9 623.2" stroke-width="0.4"/>
<path d="M1930.8 625.1L2021.9 625.1" stroke-width="0.8"/>
<path d="M1930.8 617L1930.8 625.1" stroke-width="0.7"/>
<path d="M2021.9 617L2021.9 625.1" stroke-width="0.7"/>
<path d="M1976.3 621.3L1976.3 625.1" stroke-width="0.7"/>
<rect x="1474.3" y="617" width="88.2" height="6.8" fill="#fff" stroke="none"/>
<path d="M1474.3 617.4L1562.5 617.4" stroke-width="0.9"/>
<path d="M1474.3 620.2L1562.5 620.2" stroke-width="0.5"/>
<path d="M1474.3 623.4L1562.5 623.4" stroke-width="0.8"/>
<path d="M1474.3 617L1474.3 625.1" stroke-width="0.7"/>
<path d="M1562.5 617L1562.5 625.1" stroke-width="0.7"/>
<path d="M1518.4 621.3L1518.4 625.1" stroke-width="0.7"/>
<rect x="1463.2" y="672.9" width="66.1" height="15.6" fill="#fff" stroke="none"/>
<path d="M1463.2 673.3L1529.3 673.3" stroke-width="0.9"/>
<path d="M1463.2 677.2L1529.3 677.2" stroke-width="0.8"/>
<path d="M1463.2 679.1L1529.3 679.1" stroke-width="0.4"/>
<path d="M1463.2 681L1529.3 681" stroke-width="0.8"/>
<path d="M1463.2 672.9L1463.2 681" stroke-width="0.7"/>
<path d="M1529.3 672.9L1529.3 681" stroke-width="0.7"/>
<path d="M1496.4 677.2L1496.4 681" stroke-width="0.7"/>
<rect x="689.7" y="709" width="20.6" height="39.7" fill="#fff" stroke="none"/>
<path d="M690.1 709L690.1 748.7" stroke-width="0.9"/>
<path d="M694 709L694 748.7" stroke-width="0.8"/>
<path d="M695.9 709L695.9 748.7" stroke-width="0.4"/>
<path d="M697.8 709L697.8 748.7" stroke-width="0.8"/>
<path d="M689.7 709L697.8 709" stroke-width="0.7"/>
<path d="M689.7 748.7L697.8 748.7" stroke-width="0.7"/>
<rect x="689.7" y="760.5" width="20.6" height="39.7" fill="#fff" stroke="none"/>
<path d="M690.1 760.5L690.1 800.2" stroke-width="0.9"/>
<path d="M694 760.5L694 800.2" stroke-width="0.8"/>
<path d="M695.9 760.5L695.9 800.2" stroke-width="0.4"/>
<path d="M697.8 760.5L697.8 800.2" stroke-width="0.8"/>
<path d="M689.7 760.5L697.8 760.5" stroke-width="0.7"/>
<path d="M689.7 800.2L697.8 800.2" stroke-width="0.7"/>
<rect x="689.7" y="879.5" width="20.6" height="91.1" fill="#fff" stroke="none"/>
<path d="M690.1 879.5L690.1 970.7" stroke-width="0.9"/>
<path d="M694 879.5L694 970.7" stroke-width="0.8"/>
<path d="M695.9 879.5L695.9 970.7" stroke-width="0.4"/>
<path d="M697.8 879.5L697.8 970.7" stroke-width="0.8"/>
<path d="M689.7 879.5L697.8 879.5" stroke-width="0.7"/>
<path d="M689.7 970.7L697.8 970.7" stroke-width="0.7"/>
<path d="M694 925.1L697.8 925.1" stroke-width="0.7"/>
<rect x="689.7" y="1051.1" width="6.5" height="88.2" fill="#fff" stroke="none"/>
<path d="M690.1 1051.1L690.1 1139.3" stroke-width="0.9"/>
<path d="M692.9 1051.1L692.9 1139.3" stroke-width="0.5"/>
<path d="M696.1 1051.1L696.1 1139.3" stroke-width="0.8"/>
<path d="M689.7 1051.1L697.8 1051.1" stroke-width="0.7"/>
<path d="M689.7 1139.3L697.8 1139.3" stroke-width="0.7"/>
<path d="M694 1095.2L697.8 1095.2" stroke-width="0.7"/>
<rect x="750.6" y="1071.7" width="15.6" height="75" fill="#fff" stroke="none"/>
<path d="M751 1071.7L751 1146.7" stroke-width="0.9"/>
<path d="M754.9 1071.7L754.9 1146.7" stroke-width="0.8"/>
<path d="M756.8 1071.7L756.8 1146.7" stroke-width="0.4"/>
<path d="M758.7 1071.7L758.7 1146.7" stroke-width="0.8"/>
<path d="M750.6 1071.7L758.7 1071.7" stroke-width="0.7"/>
<path d="M750.6 1146.7L758.7 1146.7" stroke-width="0.7"/>
<path d="M754.9 1108.5L758.7 1108.5" stroke-width="0.7"/>
<rect x="689.7" y="1220.2" width="20.6" height="88.2" fill="#fff" stroke="none"/>
<path d="M690.1 1220.2L690.1 1308.4" stroke-width="0.9"/>
<path d="M694 1220.2L694 1308.4" stroke-width="0.8"/>
<path d="M695.9 1220.2L695.9 1308.4" stroke-width="0.4"/>
<path d="M697.8 1220.2L697.8 1308.4" stroke-width="0.8"/>
<path d="M689.7 1220.2L697.8 1220.2" stroke-width="0.7"/>
<path d="M689.7 1308.4L697.8 1308.4" stroke-width="0.7"/>
<path d="M694 1264.3L697.8 1264.3" stroke-width="0.7"/>
<rect x="689.7" y="1390.2" width="20.6" height="38.2" fill="#fff" stroke="none"/>
<path d="M690.1 1390.2L690.1 1428.5" stroke-width="0.9"/>
<path d="M694 1390.2L694 1428.5" stroke-width="0.8"/>
<path d="M695.9 1390.2L695.9 1428.5" stroke-width="0.4"/>
<path d="M697.8 1390.2L697.8 1428.5" stroke-width="0.8"/>
<path d="M689.7 1390.2L697.8 1390.2" stroke-width="0.7"/>
<path d="M689.7 1428.5L697.8 1428.5" stroke-width="0.7"/>
<rect x="689.7" y="1441.1" width="20.6" height="40.3" fill="#fff" stroke="none"/>
<path d="M690.1 1441.1L690.1 1481.4" stroke-width="0.9"/>
<path d="M694 1441.1L694 1481.4" stroke-width="0.8"/>
<path d="M695.9 1441.1L695.9 1481.4" stroke-width="0.4"/>
<path d="M697.8 1441.1L697.8 1481.4" stroke-width="0.8"/>
<path d="M689.7 1441.1L697.8 1441.1" stroke-width="0.7"/>
<path d="M689.7 1481.4L697.8 1481.4" stroke-width="0.7"/>
<rect x="2169.2" y="720.8" width="21.2" height="89.7" fill="#fff" stroke="none"/>
<path d="M2190 720.8L2190 810.5" stroke-width="0.9"/>
<path d="M2186.1 720.8L2186.1 810.5" stroke-width="0.8"/>
<path d="M2184.2 720.8L2184.2 810.5" stroke-width="0.4"/>
<path d="M2182.3 720.8L2182.3 810.5" stroke-width="0.8"/>
<path d="M2190.4 720.8L2182.3 720.8" stroke-width="0.7"/>
<path d="M2190.4 810.5L2182.3 810.5" stroke-width="0.7"/>
<path d="M2186.1 764.9L2182.3 764.9" stroke-width="0.7"/>
<rect x="2169.2" y="879.5" width="21.2" height="91.1" fill="#fff" stroke="none"/>
<path d="M2190 879.5L2190 970.7" stroke-width="0.9"/>
<path d="M2186.1 879.5L2186.1 970.7" stroke-width="0.8"/>
<path d="M2184.2 879.5L2184.2 970.7" stroke-width="0.4"/>
<path d="M2182.3 879.5L2182.3 970.7" stroke-width="0.8"/>
<path d="M2190.4 879.5L2182.3 879.5" stroke-width="0.7"/>
<path d="M2190.4 970.7L2182.3 970.7" stroke-width="0.7"/>
<path d="M2186.1 925.1L2182.3 925.1" stroke-width="0.7"/>
<rect x="2183.6" y="1049.7" width="6.8" height="89.1" fill="#fff" stroke="none"/>
<path d="M2189.9 1049.7L2189.9 1138.7" stroke-width="0.9"/>
<path d="M2187.1 1049.7L2187.1 1138.7" stroke-width="0.5"/>
<path d="M2183.9 1049.7L2183.9 1138.7" stroke-width="0.8"/>
<path d="M2190.3 1049.7L2182.2 1049.7" stroke-width="0.7"/>
<path d="M2190.3 1138.7L2182.2 1138.7" stroke-width="0.7"/>
<path d="M2186 1093.8L2182.2 1093.8" stroke-width="0.7"/>
<rect x="2113" y="1065.2" width="16.2" height="82.9" fill="#fff" stroke="none"/>
<path d="M2128.8 1065.2L2128.8 1148.1" stroke-width="0.9"/>
<path d="M2124.9 1065.2L2124.9 1148.1" stroke-width="0.8"/>
<path d="M2123 1065.2L2123 1148.1" stroke-width="0.4"/>
<path d="M2121.1 1065.2L2121.1 1148.1" stroke-width="0.8"/>
<path d="M2129.2 1065.2L2121.1 1065.2" stroke-width="0.7"/>
<path d="M2129.2 1148.1L2121.1 1148.1" stroke-width="0.7"/>
<path d="M2124.9 1104.1L2121.1 1104.1" stroke-width="0.7"/>
<rect x="2169.7" y="1231.9" width="20.6" height="89.7" fill="#fff" stroke="none"/>
<path d="M2189.9 1231.9L2189.9 1321.6" stroke-width="0.9"/>
<path d="M2186 1231.9L2186 1321.6" stroke-width="0.8"/>
<path d="M2184.1 1231.9L2184.1 1321.6" stroke-width="0.4"/>
<path d="M2182.2 1231.9L2182.2 1321.6" stroke-width="0.8"/>
<path d="M2190.3 1231.9L2182.2 1231.9" stroke-width="0.7"/>
<path d="M2190.3 1321.6L2182.2 1321.6" stroke-width="0.7"/>
<path d="M2186 1276.9L2182.2 1276.9" stroke-width="0.7"/>
<rect x="882.8" y="1574.6" width="73.5" height="20" fill="#fff" stroke="none"/>
<path d="M882.8 1594.2L956.3 1594.2" stroke-width="0.9"/>
<path d="M882.8 1590.3L956.3 1590.3" stroke-width="0.8"/>
<path d="M882.8 1588.4L956.3 1588.4" stroke-width="0.4"/>
<path d="M882.8 1586.5L956.3 1586.5" stroke-width="0.8"/>
<path d="M882.8 1594.6L882.8 1586.5" stroke-width="0.7"/>
<path d="M956.3 1594.6L956.3 1586.5" stroke-width="0.7"/>
<path d="M922.5 1590.3L922.5 1586.5" stroke-width="0.7"/>
<rect x="1018.1" y="1574.6" width="72" height="20" fill="#fff" stroke="none"/>
<path d="M1018.1 1594.2L1090.1 1594.2" stroke-width="0.9"/>
<path d="M1018.1 1590.3L1090.1 1590.3" stroke-width="0.8"/>
<path d="M1018.1 1588.4L1090.1 1588.4" stroke-width="0.4"/>
<path d="M1018.1 1586.5L1090.1 1586.5" stroke-width="0.8"/>
<path d="M1018.1 1594.6L1018.1 1586.5" stroke-width="0.7"/>
<path d="M1090.1 1594.6L1090.1 1586.5" stroke-width="0.7"/>
<path d="M1056.3 1590.3L1056.3 1586.5" stroke-width="0.7"/>
<rect x="1162.1" y="1574.6" width="92.6" height="20" fill="#fff" stroke="none"/>
<path d="M1162.1 1594.2L1254.7 1594.2" stroke-width="0.9"/>
<path d="M1162.1 1590.3L1254.7 1590.3" stroke-width="0.8"/>
<path d="M1162.1 1588.4L1254.7 1588.4" stroke-width="0.4"/>
<path d="M1162.1 1586.5L1254.7 1586.5" stroke-width="0.8"/>
<path d="M1162.1 1594.6L1162.1 1586.5" stroke-width="0.7"/>
<path d="M1254.7 1594.6L1254.7 1586.5" stroke-width="0.7"/>
<path d="M1193 1590.3L1193 1586.5" stroke-width="0.7"/>
<rect x="1316.7" y="1574.6" width="73.8" height="20" fill="#fff" stroke="none"/>
<path d="M1316.7 1594.2L1390.5 1594.2" stroke-width="0.9"/>
<path d="M1316.7 1590.3L1390.5 1590.3" stroke-width="0.8"/>
<path d="M1316.7 1588.4L1390.5 1588.4" stroke-width="0.4"/>
<path d="M1316.7 1586.5L1390.5 1586.5" stroke-width="0.8"/>
<path d="M1316.7 1594.6L1316.7 1586.5" stroke-width="0.7"/>
<path d="M1390.5 1594.6L1390.5 1586.5" stroke-width="0.7"/>
<path d="M1353.5 1590.3L1353.5 1586.5" stroke-width="0.7"/>
<rect x="1617.5" y="1574.6" width="104.4" height="20" fill="#fff" stroke="none"/>
<path d="M1617.5 1594.2L1721.8 1594.2" stroke-width="0.9"/>
<path d="M1617.5 1590.3L1721.8 1590.3" stroke-width="0.8"/>
<path d="M1617.5 1588.4L1721.8 1588.4" stroke-width="0.4"/>
<path d="M1617.5 1586.5L1721.8 1586.5" stroke-width="0.8"/>
<path d="M1617.5 1594.6L1617.5 1586.5" stroke-width="0.7"/>
<path d="M1721.8 1594.6L1721.8 1586.5" stroke-width="0.7"/>
<path d="M1688 1590.3L1688 1586.5" stroke-width="0.7"/>
<rect x="1780.8" y="1574.6" width="73.5" height="20" fill="#fff" stroke="none"/>
<path d="M1780.8 1594.2L1854.3 1594.2" stroke-width="0.9"/>
<path d="M1780.8 1590.3L1854.3 1590.3" stroke-width="0.8"/>
<path d="M1780.8 1588.4L1854.3 1588.4" stroke-width="0.4"/>
<path d="M1780.8 1586.5L1854.3 1586.5" stroke-width="0.8"/>
<path d="M1780.8 1594.6L1780.8 1586.5" stroke-width="0.7"/>
<path d="M1854.3 1594.6L1854.3 1586.5" stroke-width="0.7"/>
<path d="M1817.6 1590.3L1817.6 1586.5" stroke-width="0.7"/>
<rect x="1916.7" y="1574.6" width="72.9" height="20" fill="#fff" stroke="none"/>
<path d="M1916.7 1594.2L1989.6 1594.2" stroke-width="0.9"/>
<path d="M1916.7 1590.3L1989.6 1590.3" stroke-width="0.8"/>
<path d="M1916.7 1588.4L1989.6 1588.4" stroke-width="0.4"/>
<path d="M1916.7 1586.5L1989.6 1586.5" stroke-width="0.8"/>
<path d="M1916.7 1594.6L1916.7 1586.5" stroke-width="0.7"/>
<path d="M1989.6 1594.6L1989.6 1586.5" stroke-width="0.7"/>
<path d="M1952.8 1590.3L1952.8 1586.5" stroke-width="0.7"/>
<rect x="1454.3" y="1588.1" width="100.8" height="6.5" fill="#fff" stroke="none"/>
<path d="M1454.3 1594.2L1555.1 1594.2" stroke-width="0.9"/>
<path d="M1454.3 1591.4L1555.1 1591.4" stroke-width="0.5"/>
<path d="M1454.3 1588.2L1555.1 1588.2" stroke-width="0.8"/>
<path d="M1454.3 1594.6L1454.3 1586.5" stroke-width="0.7"/>
<path d="M1555.1 1594.6L1555.1 1586.5" stroke-width="0.7"/>
<path d="M1504.3 1590.3L1504.3 1586.5" stroke-width="0.7"/>
<rect x="1462.5" y="1522.5" width="66.7" height="16.2" fill="#fff" stroke="none"/>
<path d="M1462.5 1538.3L1529.3 1538.3" stroke-width="0.9"/>
<path d="M1462.5 1534.4L1529.3 1534.4" stroke-width="0.8"/>
<path d="M1462.5 1532.5L1529.3 1532.5" stroke-width="0.4"/>
<path d="M1462.5 1530.6L1529.3 1530.6" stroke-width="0.8"/>
<path d="M1462.5 1538.7L1462.5 1530.6" stroke-width="0.7"/>
<path d="M1529.3 1538.7L1529.3 1530.6" stroke-width="0.7"/>
<path d="M1496.9 1534.4L1496.9 1530.6" stroke-width="0.7"/>
<rect x="719.7" y="1588.1" width="100" height="6.5" fill="#fff" stroke="none"/>
<path d="M719.7 1594.2L819.6 1594.2" stroke-width="0.9"/>
<path d="M719.7 1591.4L819.6 1591.4" stroke-width="0.5"/>
<path d="M719.7 1588.2L819.6 1588.2" stroke-width="0.8"/>
<path d="M719.7 1594.6L719.7 1586.5" stroke-width="0.7"/>
<path d="M819.6 1594.6L819.6 1586.5" stroke-width="0.7"/>
<path d="M769.7 1590.3L769.7 1586.5" stroke-width="0.7"/>
<rect x="755" y="1522.5" width="69.1" height="16.2" fill="#fff" stroke="none"/>
<path d="M755 1538.3L824.1 1538.3" stroke-width="0.9"/>
<path d="M755 1534.4L824.1 1534.4" stroke-width="0.8"/>
<path d="M755 1532.5L824.1 1532.5" stroke-width="0.4"/>
<path d="M755 1530.6L824.1 1530.6" stroke-width="0.8"/>
<path d="M755 1538.7L755 1530.6" stroke-width="0.7"/>
<path d="M824.1 1538.7L824.1 1530.6" stroke-width="0.7"/>
<path d="M790.2 1534.4L790.2 1530.6" stroke-width="0.7"/>
<rect x="2052.8" y="1588.1" width="100" height="6.5" fill="#fff" stroke="none"/>
<path d="M2052.8 1594.2L2152.7 1594.2" stroke-width="0.9"/>
<path d="M2052.8 1591.4L2152.7 1591.4" stroke-width="0.5"/>
<path d="M2052.8 1588.2L2152.7 1588.2" stroke-width="0.8"/>
<path d="M2052.8 1594.6L2052.8 1586.5" stroke-width="0.7"/>
<path d="M2152.7 1594.6L2152.7 1586.5" stroke-width="0.7"/>
<path d="M2102.8 1590.3L2102.8 1586.5" stroke-width="0.7"/>
<rect x="2060.1" y="1522.5" width="67.6" height="16.2" fill="#fff" stroke="none"/>
<path d="M2060.1 1538.3L2127.7 1538.3" stroke-width="0.9"/>
<path d="M2060.1 1534.4L2127.7 1534.4" stroke-width="0.8"/>
<path d="M2060.1 1532.5L2127.7 1532.5" stroke-width="0.4"/>
<path d="M2060.1 1530.6L2127.7 1530.6" stroke-width="0.8"/>
<path d="M2060.1 1538.7L2060.1 1530.6" stroke-width="0.7"/>
<path d="M2127.7 1538.7L2127.7 1530.6" stroke-width="0.7"/>
<path d="M2093.9 1534.4L2093.9 1530.6" stroke-width="0.7"/></g>
<g fill="none" stroke="#555" stroke-width="0.7"><rect x="2146.8" y="1142.3" width="27.9" height="10.3" stroke="#444"/>
<rect x="952.3" y="1028.4" width="26" height="26.5" fill="#fff"/>
<path d="M965.3 1037.2L965.3 1046" stroke-width="0.9"/>
<path d="M968.4 1038.5L962.2 1044.7" stroke-width="0.9"/>
<path d="M969.7 1041.6L960.9 1041.6" stroke-width="0.9"/>
<path d="M968.4 1044.7L962.2 1038.5" stroke-width="0.9"/>
<rect x="952.3" y="1054.8" width="26" height="18.7" fill="#fff"/>
<rect x="952.3" y="1073.5" width="26" height="26.5" fill="#fff"/>
<path transform="translate(965.3 1086.7) rotate(270)" d="M0 5 C-0.9 2.8 -3.1 0.3 -3.1 -1.9 A3.1 3.1 0 1 1 3.1 -1.9 C3.1 0.3 0.9 2.8 0 5 Z" stroke-width="0.8"/>
<rect x="952.3" y="1100" width="26" height="27.3" fill="#fff"/>
<rect x="955.5" y="1101.4" width="22" height="24.7" fill="#fff"/>
<rect x="956.6" y="1102.7" width="19.8" height="22.2" fill="#fff"/>
<rect x="958.9" y="1105.9" width="15.4" height="14.8" rx="1" fill="#fff"/>
<path d="M977.6 1113.8L966.6 1113.8" stroke-width="1.6"/>
<circle cx="965.9" cy="1113.8" r="0.8" />
<rect x="884.3" y="1127.3" width="14.3" height="26" fill="#fff"/>
<rect x="898.5" y="1128" width="26.9" height="24.8" fill="#fff"/>
<rect x="899.9" y="1132" width="24.2" height="19.6" fill="#fff"/>
<circle cx="906.4" cy="1137.3" r="2.6" />
<circle cx="917.5" cy="1137.3" r="3.5" />
<circle cx="906.4" cy="1146.3" r="3.5" />
<circle cx="917.5" cy="1146.3" r="2.6" />
<rect x="925.4" y="1127.3" width="26.9" height="26" fill="#fff"/>
<rect x="952.3" y="1127.3" width="26" height="26" fill="#fff"/>
<rect x="983.9" y="1033.5" width="21.6" height="25.7" stroke="#666" stroke-width="0.6" fill="#fff"/>
<path transform="translate(994.7 1046.4) rotate(0)" d="M-2.7 -3.2L2.4 -2.4L3 2.7L-2.2 3.2Z M-2.7 -3.2L-6.5 -2.4 M2.4 -2.4L1.6 -6.7 M3 2.7L6.7 1.9 M-2.2 3.2L-1.3 7 " stroke-width="0.8"/>
<path d="M1010.2 1101.5L1010.2 1085.9A4.7 4.7 0 0 1 1014.9 1081.3L1022.2 1081.3A4.7 4.7 0 0 1 1026.8 1085.9L1026.8 1101.5" stroke="#fff" stroke-width="2" fill="#fff"/>
<path d="M1010.2 1101.5L1010.2 1085.9A4.7 4.7 0 0 1 1014.9 1081.3L1022.2 1081.3A4.7 4.7 0 0 1 1026.8 1085.9L1026.8 1101.5" stroke-width="0.8"/>
<rect x="1010.6" y="1101.5" width="15.9" height="9.9" stroke-width="0.8" fill="#fff"/>
<path d="M1010.6 1104L1026.5 1104" stroke-width="1.6" stroke="#fff"/>
<path d="M1010.6 1103.2L1026.5 1103.2" stroke-width="0.6"/>
<path d="M1010.6 1104.8L1026.5 1104.8" stroke-width="0.6"/>
<rect x="1040.5" y="1091.6" width="29" height="19.8" stroke="#666" stroke-width="1.8" fill="#fff"/>
<rect x="1040.5" y="1091.6" width="29" height="19.8" stroke="#fff" stroke-width="0.6" fill="#fff"/>
<rect x="1042.5" y="1093.6" width="25" height="12.9" fill="#fff"/>
<circle cx="1055" cy="1102.6" r="0.9" fill="#555" stroke="none"/>
<rect x="1071.4" y="1036.2" width="33.8" height="75.3" stroke="#777" stroke-width="0.6" fill="#fff"/>
<path d="M1088.3 1038.5L1088.3 1038.5A14.5 14.5 0 0 1 1102.8 1053.1L1102.8 1104A5.1 5.1 0 0 1 1097.7 1109.1L1078.8 1109.1A5.1 5.1 0 0 1 1073.7 1104L1073.7 1053.1A14.5 14.5 0 0 1 1088.3 1038.5Z" stroke="#fff" stroke-width="2.2" fill="#fff"/>
<path d="M1088.3 1038.5L1088.3 1038.5A14.5 14.5 0 0 1 1102.8 1053.1L1102.8 1104A5.1 5.1 0 0 1 1097.7 1109.1L1078.8 1109.1A5.1 5.1 0 0 1 1073.7 1104L1073.7 1053.1A14.5 14.5 0 0 1 1088.3 1038.5Z" stroke-width="0.8"/>
<circle cx="1088.3" cy="1100.6" r="1" fill="#555" stroke="none"/>
<path d="M975.8 886.3L960.3 886.3A4.5 4.5 0 0 0 955.8 890.8L955.8 898A4.5 4.5 0 0 0 960.3 902.5L975.8 902.5" stroke="#fff" stroke-width="2" fill="#fff"/>
<path d="M975.8 886.3L960.3 886.3A4.5 4.5 0 0 0 955.8 890.8L955.8 898A4.5 4.5 0 0 0 960.3 902.5L975.8 902.5" stroke-width="0.8"/>
<rect x="975.8" y="886.6" width="9.9" height="15.5" stroke-width="0.8" fill="#fff"/>
<path d="M978.3 886.6L978.3 902.2" stroke-width="1.6" stroke="#fff"/>
<path d="M977.5 886.6L977.5 902.2" stroke-width="0.6"/>
<path d="M979.1 886.6L979.1 902.2" stroke-width="0.6"/>
<rect x="915.2" y="941.9" width="25" height="15" stroke="#666" stroke-width="1.8" fill="#fff"/>
<rect x="915.2" y="941.9" width="25" height="15" stroke="#fff" stroke-width="0.6" fill="#fff"/>
<rect x="916.7" y="943.4" width="22" height="9.7" fill="#fff"/>
<circle cx="927.7" cy="950.2" r="0.9" fill="#555" stroke="none"/>
<rect x="963.7" y="919.8" width="37.6" height="37" stroke="#777" stroke-width="0.6" fill="#fff"/>
<rect x="965.6" y="921.7" width="33.9" height="33.3" rx="3" stroke="#fff" stroke-width="2.2" fill="#fff"/>
<rect x="965.6" y="921.7" width="33.9" height="33.3" rx="3" stroke-width="0.8" fill="#fff"/>
<path d="M969.6 925.7L994.6 950.1" stroke-width="0.8"/>
<path d="M997.5 925.1L997.5 945.7" stroke-width="0.7"/>
<path d="M969.6 953L991.6 953" stroke-width="0.7"/>
<circle cx="994" cy="949.5" r="1.2" fill="#555" stroke="none"/>
<rect x="710.9" y="1137.9" width="26.5" height="8.8" stroke="#333"/>
<path d="M710.9 1139.3L737.3 1139.3" stroke="#333"/>
<rect x="1177.3" y="814.2" width="26.8" height="27.2" />
<path d="M1190.7 823.3L1190.7 832.4" stroke-width="0.9"/>
<path d="M1193.9 824.6L1187.5 831" stroke-width="0.9"/>
<path d="M1195.3 827.8L1186.2 827.8" stroke-width="0.9"/>
<path d="M1193.9 831L1187.5 824.6" stroke-width="0.9"/>
<rect x="1204.8" y="814.2" width="23.5" height="27.2" />
<path transform="translate(1216.6 827.8) rotate(0)" d="M0 4.5 C-0.8 2.5 -2.8 0.3 -2.8 -1.7 A2.8 2.8 0 1 1 2.8 -1.7 C2.8 0.3 0.8 2.5 0 4.5 Z" stroke-width="0.8"/>
<rect x="1229.1" y="815" width="26.5" height="25.7" />
<rect x="1230.4" y="816.3" width="23.8" height="23.2" />
<rect x="1233.1" y="819.6" width="18.5" height="15.4" rx="1"/>
<path d="M1242.3 840.7L1242.3 827.8" stroke-width="1.6"/>
<circle cx="1242.3" cy="827.1" r="0.9" />
<rect x="1255.5" y="814.2" width="27.2" height="27.2" />
<rect x="1255.5" y="747.1" width="26.5" height="13.5" />
<rect x="1255.5" y="760.6" width="26.5" height="27.2" />
<rect x="1259.8" y="761.9" width="20.9" height="24.5" />
<circle cx="1265.4" cy="768.5" r="2.7" />
<circle cx="1275" cy="768.5" r="3.8" />
<circle cx="1265.4" cy="779.8" r="3.8" />
<circle cx="1275" cy="779.8" r="2.7" />
<rect x="1255.5" y="787.8" width="26.5" height="26.5" />
<rect x="1207.3" y="846.1" width="74.7" height="33.2" stroke="#777" stroke-width="0.6"/>
<path d="M1223.9 848.5L1274.7 848.5A5 5 0 0 1 1279.7 853.5L1279.7 872A5 5 0 0 1 1274.7 877L1223.9 877A14.3 14.3 0 0 1 1209.7 862.7L1209.7 862.7A14.3 14.3 0 0 1 1223.9 848.5Z" stroke="#fff" stroke-width="2.2" fill="none"/>
<path d="M1223.9 848.5L1274.7 848.5A5 5 0 0 1 1279.7 853.5L1279.7 872A5 5 0 0 1 1274.7 877L1223.9 877A14.3 14.3 0 0 1 1209.7 862.7L1209.7 862.7A14.3 14.3 0 0 1 1223.9 848.5Z" stroke-width="0.8"/>
<circle cx="1271.3" cy="862.7" r="1" fill="#555" stroke="none"/>
<rect x="1262.9" y="881.8" width="19.1" height="29" stroke="#666" stroke-width="1.8"/>
<rect x="1262.9" y="881.8" width="19.1" height="29" stroke="#fff" stroke-width="0.6"/>
<rect x="1264.8" y="883.8" width="12.4" height="25.1" />
<circle cx="1273.5" cy="896.3" r="0.9" fill="#555" stroke="none"/>
<path d="M1272.2 920.1L1257 920.1A4.7 4.7 0 0 0 1252.3 924.7L1252.3 932A4.7 4.7 0 0 0 1257 936.7L1272.2 936.7" stroke="#fff" stroke-width="2" fill="none"/>
<path d="M1272.2 920.1L1257 920.1A4.7 4.7 0 0 0 1252.3 924.7L1252.3 932A4.7 4.7 0 0 0 1257 936.7L1272.2 936.7" stroke-width="0.8"/>
<rect x="1272.2" y="920.4" width="9.8" height="15.9" stroke-width="0.8" fill="none"/>
<path d="M1274.7 920.4L1274.7 936.3" stroke-width="1.6" stroke="#fff"/>
<path d="M1273.9 920.4L1273.9 936.3" stroke-width="0.6"/>
<path d="M1275.5 920.4L1275.5 936.3" stroke-width="0.6"/>
<rect x="1197.5" y="921.5" width="26.9" height="22.8" stroke="#666" stroke-width="0.6"/>
<path transform="translate(1210.9 932.9) rotate(180)" d="M-2.8 -3.4L2.5 -2.5L3.2 2.8L-2.3 3.4Z M-2.8 -3.4L-6.8 -2.5 M2.5 -2.5L1.7 -7.1 M3.2 2.8L7.1 2.1 M-2.3 3.4L-1.4 7.4 " stroke-width="0.8"/>
<rect x="1307.4" y="823.8" width="76" height="33.5" stroke="#777" stroke-width="0.6"/>
<path d="M1314.8 826.1L1366.7 826.1A14.4 14.4 0 0 1 1381.1 840.5L1381.1 840.5A14.4 14.4 0 0 1 1366.7 855L1314.8 855A5 5 0 0 1 1309.8 849.9L1309.8 831.2A5 5 0 0 1 1314.8 826.1Z" stroke="#fff" stroke-width="2.2" fill="none"/>
<path d="M1314.8 826.1L1366.7 826.1A14.4 14.4 0 0 1 1381.1 840.5L1381.1 840.5A14.4 14.4 0 0 1 1366.7 855L1314.8 855A5 5 0 0 1 1309.8 849.9L1309.8 831.2A5 5 0 0 1 1314.8 826.1Z" stroke-width="0.8"/>
<circle cx="1318.3" cy="840.5" r="1" fill="#555" stroke="none"/>
<rect x="1307.4" y="859.4" width="20.1" height="29.1" stroke="#666" stroke-width="1.8"/>
<rect x="1307.4" y="859.4" width="20.1" height="29.1" stroke="#fff" stroke-width="0.6"/>
<rect x="1312.5" y="861.4" width="13.1" height="25.1" />
<circle cx="1316.4" cy="873.9" r="0.9" fill="#555" stroke="none"/>
<path d="M1317.5 897.6L1333.3 897.6A4.5 4.5 0 0 1 1337.9 902.1L1337.9 909.2A4.5 4.5 0 0 1 1333.3 913.7L1317.5 913.7" stroke="#fff" stroke-width="2" fill="none"/>
<path d="M1317.5 897.6L1333.3 897.6A4.5 4.5 0 0 1 1337.9 902.1L1337.9 909.2A4.5 4.5 0 0 1 1333.3 913.7L1317.5 913.7" stroke-width="0.8"/>
<rect x="1307.4" y="897.9" width="10" height="15.5" stroke-width="0.8" fill="none"/>
<path d="M1315 897.9L1315 913.4" stroke-width="1.6" stroke="#fff"/>
<path d="M1314.2 897.9L1314.2 913.4" stroke-width="0.6"/>
<path d="M1315.8 897.9L1315.8 913.4" stroke-width="0.6"/>
<rect x="1361.4" y="921.5" width="26.5" height="22.8" stroke="#666" stroke-width="0.6"/>
<path transform="translate(1374.6 932.9) rotate(0)" d="M-2.8 -3.4L2.5 -2.5L3.2 2.8L-2.3 3.4Z M-2.8 -3.4L-6.8 -2.5 M2.5 -2.5L1.7 -7.1 M3.2 2.8L7.1 2.1 M-2.3 3.4L-1.4 7.4 " stroke-width="0.8"/>
<rect x="1474.9" y="886.3" width="26.5" height="25.6" />
<path d="M1488.2 894.8L1488.2 903.4" stroke-width="0.9"/>
<path d="M1491.2 896L1485.1 902.2" stroke-width="0.9"/>
<path d="M1492.5 899.1L1483.8 899.1" stroke-width="0.9"/>
<path d="M1491.2 902.2L1485.1 896" stroke-width="0.9"/>
<rect x="1501.4" y="886.3" width="9.7" height="25.6" />
<rect x="1511.1" y="886.3" width="26.5" height="25.6" />
<path transform="translate(1524.3 899.1) rotate(0)" d="M0 4.9 C-0.9 2.8 -3.1 0.3 -3.1 -1.8 A3.1 3.1 0 1 1 3.1 -1.8 C3.1 0.3 0.9 2.8 0 4.9 Z" stroke-width="0.8"/>
<rect x="1539" y="887.8" width="25.6" height="23.5" />
<rect x="1540.3" y="889" width="23" height="21.2" />
<rect x="1542.9" y="892" width="17.9" height="14.1" rx="1"/>
<path d="M1551.8 911.3L1551.8 899.5" stroke-width="1.6"/>
<circle cx="1551.8" cy="898.8" r="0.8" />
<rect x="1565.5" y="886.3" width="25.6" height="25.6" />
<rect x="1565.5" y="818.7" width="25.6" height="12.3" />
<rect x="1566.9" y="831.6" width="23.5" height="27.3" />
<rect x="1570.7" y="833" width="18.6" height="24.6" />
<circle cx="1575.7" cy="839.6" r="2.4" />
<circle cx="1584.3" cy="839.6" r="3.3" />
<circle cx="1575.7" cy="851" r="3.3" />
<circle cx="1584.3" cy="851" r="2.4" />
<rect x="1565.5" y="859" width="25.6" height="27.3" />
<rect x="1601.6" y="767" width="25.6" height="12.6" />
<rect x="1601.6" y="780.5" width="25" height="25.6" />
<rect x="1602.9" y="781.8" width="19.7" height="23" />
<circle cx="1608.2" cy="788" r="3.6" />
<circle cx="1617.3" cy="788" r="2.6" />
<circle cx="1608.2" cy="798.6" r="2.6" />
<circle cx="1617.3" cy="798.6" r="3.6" />
<rect x="1601.6" y="806.9" width="25.6" height="27.9" />
<rect x="1601.6" y="834.9" width="25.6" height="25.6" />
<rect x="1628.1" y="836.3" width="25.6" height="23.5" />
<rect x="1629.4" y="837.5" width="23" height="21.2" />
<rect x="1631.9" y="840.6" width="17.9" height="14.1" rx="1"/>
<path d="M1640.9 859.9L1640.9 848.1" stroke-width="1.6"/>
<circle cx="1640.9" cy="847.4" r="0.8" />
<rect x="1654.6" y="834.9" width="21.8" height="25.6" />
<path transform="translate(1665.4 847.7) rotate(0)" d="M0 4.2 C-0.8 2.3 -2.6 0.3 -2.6 -1.6 A2.6 2.6 0 1 1 2.6 -1.6 C2.6 0.3 0.8 2.3 0 4.2 Z" stroke-width="0.8"/>
<rect x="1677.2" y="834.9" width="25.9" height="25.6" />
<path d="M1690.1 843.3L1690.1 852" stroke-width="0.9"/>
<path d="M1693.2 844.6L1687 850.7" stroke-width="0.9"/>
<path d="M1694.5 847.7L1685.8 847.7" stroke-width="0.9"/>
<path d="M1693.2 850.7L1687 844.6" stroke-width="0.9"/>
<rect x="1814.8" y="831" width="74.1" height="32.3" stroke="#777" stroke-width="0.6"/>
<path d="M1830.9 833.3L1881.7 833.3A4.9 4.9 0 0 1 1886.6 838.2L1886.6 856.3A4.9 4.9 0 0 1 1881.7 861.1L1830.9 861.1A13.9 13.9 0 0 1 1817 847.2L1817 847.2A13.9 13.9 0 0 1 1830.9 833.3Z" stroke="#fff" stroke-width="2.2" fill="none"/>
<path d="M1830.9 833.3L1881.7 833.3A4.9 4.9 0 0 1 1886.6 838.2L1886.6 856.3A4.9 4.9 0 0 1 1881.7 861.1L1830.9 861.1A13.9 13.9 0 0 1 1817 847.2L1817 847.2A13.9 13.9 0 0 1 1830.9 833.3Z" stroke-width="0.8"/>
<circle cx="1878.2" cy="847.2" r="1" fill="#555" stroke="none"/>
<rect x="1870.3" y="866.3" width="20" height="29.4" stroke="#666" stroke-width="1.8"/>
<rect x="1870.3" y="866.3" width="20" height="29.4" stroke="#fff" stroke-width="0.6"/>
<rect x="1872.3" y="868.3" width="13" height="25.4" />
<circle cx="1881.4" cy="881" r="0.9" fill="#555" stroke="none"/>
<path d="M1880.1 904L1864.4 904A4.9 4.9 0 0 0 1859.5 908.9L1859.5 916.7A4.9 4.9 0 0 0 1864.4 921.6L1880.1 921.6" stroke="#fff" stroke-width="2" fill="none"/>
<path d="M1880.1 904L1864.4 904A4.9 4.9 0 0 0 1859.5 908.9L1859.5 916.7A4.9 4.9 0 0 0 1864.4 921.6L1880.1 921.6" stroke-width="0.8"/>
<rect x="1880.1" y="904.3" width="10.2" height="16.9" stroke-width="0.8" fill="none"/>
<path d="M1882.7 904.3L1882.7 921.2" stroke-width="1.6" stroke="#fff"/>
<path d="M1881.9 904.3L1881.9 921.2" stroke-width="0.6"/>
<path d="M1883.5 904.3L1883.5 921.2" stroke-width="0.6"/>
<rect x="1813.9" y="921.6" width="25" height="23.2" stroke="#666" stroke-width="0.6"/>
<path transform="translate(1826.4 933.2) rotate(180)" d="M-2.9 -3.5L2.6 -2.6L3.3 2.9L-2.3 3.5Z M-2.9 -3.5L-7 -2.6 M2.6 -2.6L1.7 -7.2 M3.3 2.9L7.2 2.1 M-2.3 3.5L-1.4 7.5 " stroke-width="0.8"/>
<rect x="1901.4" y="831" width="74.4" height="32.3" stroke="#777" stroke-width="0.6"/>
<path d="M1908.5 833.3L1959.6 833.3A13.9 13.9 0 0 1 1973.5 847.2L1973.5 847.2A13.9 13.9 0 0 1 1959.6 861.1L1908.5 861.1A4.9 4.9 0 0 1 1903.6 856.3L1903.6 838.2A4.9 4.9 0 0 1 1908.5 833.3Z" stroke="#fff" stroke-width="2.2" fill="none"/>
<path d="M1908.5 833.3L1959.6 833.3A13.9 13.9 0 0 1 1973.5 847.2L1973.5 847.2A13.9 13.9 0 0 1 1959.6 861.1L1908.5 861.1A4.9 4.9 0 0 1 1903.6 856.3L1903.6 838.2A4.9 4.9 0 0 1 1908.5 833.3Z" stroke-width="0.8"/>
<circle cx="1912" cy="847.2" r="1" fill="#555" stroke="none"/>
<rect x="1899.9" y="866.3" width="20" height="29.4" stroke="#666" stroke-width="1.8"/>
<rect x="1899.9" y="866.3" width="20" height="29.4" stroke="#fff" stroke-width="0.6"/>
<rect x="1904.9" y="868.3" width="13" height="25.4" />
<circle cx="1908.8" cy="881" r="0.9" fill="#555" stroke="none"/>
<path d="M1910.1 904L1925.8 904A4.9 4.9 0 0 1 1930.8 908.9L1930.8 916.7A4.9 4.9 0 0 1 1925.8 921.6L1910.1 921.6" stroke="#fff" stroke-width="2" fill="none"/>
<path d="M1910.1 904L1925.8 904A4.9 4.9 0 0 1 1930.8 908.9L1930.8 916.7A4.9 4.9 0 0 1 1925.8 921.6L1910.1 921.6" stroke-width="0.8"/>
<rect x="1899.9" y="904.3" width="10.2" height="16.9" stroke-width="0.8" fill="none"/>
<path d="M1907.5 904.3L1907.5 921.2" stroke-width="1.6" stroke="#fff"/>
<path d="M1906.7 904.3L1906.7 921.2" stroke-width="0.6"/>
<path d="M1908.3 904.3L1908.3 921.2" stroke-width="0.6"/>
<rect x="1954.3" y="909.8" width="26.5" height="22.6" stroke="#666" stroke-width="0.6"/>
<path transform="translate(1967.5 921.1) rotate(0)" d="M-2.8 -3.4L2.5 -2.5L3.2 2.8L-2.3 3.4Z M-2.8 -3.4L-6.8 -2.5 M2.5 -2.5L1.7 -7 M3.2 2.8L7 2 M-2.3 3.4L-1.4 7.4 " stroke-width="0.8"/>
<rect x="710.9" y="1164.3" width="25.6" height="25.6" />
<path d="M723.7 1172.8L723.7 1181.5" stroke-width="0.9"/>
<path d="M726.7 1174L720.6 1180.2" stroke-width="0.9"/>
<path d="M728 1177.1L719.3 1177.1" stroke-width="0.9"/>
<path d="M726.7 1180.2L720.6 1174" stroke-width="0.9"/>
<rect x="736.4" y="1164.3" width="17.1" height="25.6" />
<rect x="753.5" y="1164.9" width="26.5" height="24.4" />
<rect x="754.8" y="1166.1" width="23.8" height="19.3" />
<circle cx="761.2" cy="1171.3" r="3.5" />
<circle cx="772.2" cy="1171.3" r="2.5" />
<circle cx="761.2" cy="1180.2" r="2.5" />
<circle cx="772.2" cy="1180.2" r="3.5" />
<rect x="780" y="1164.3" width="27" height="25.6" />
<rect x="807" y="1164.9" width="25.9" height="24.4" />
<rect x="808.3" y="1166.1" width="23.3" height="22" />
<rect x="810.9" y="1169.3" width="18.1" height="14.6" rx="1"/>
<path d="M819.9 1164.9L819.9 1177.1" stroke-width="1.6"/>
<circle cx="819.9" cy="1177.8" r="0.9" />
<rect x="833.5" y="1164.3" width="26.5" height="25.6" />
<path transform="translate(846.7 1177.1) rotate(180)" d="M0 4.9 C-0.9 2.8 -3.1 0.3 -3.1 -1.8 A3.1 3.1 0 1 1 3.1 -1.8 C3.1 0.3 0.9 2.8 0 4.9 Z" stroke-width="0.8"/>
<rect x="859.9" y="1164.3" width="27.3" height="25.6" />
<path d="M961.5 1271L945.7 1271A4.7 4.7 0 0 0 941.1 1275.7L941.1 1283.1A4.7 4.7 0 0 0 945.7 1287.8L961.5 1287.8" stroke="#fff" stroke-width="2" fill="none"/>
<path d="M961.5 1271L945.7 1271A4.7 4.7 0 0 0 941.1 1275.7L941.1 1283.1A4.7 4.7 0 0 0 945.7 1287.8L961.5 1287.8" stroke-width="0.8"/>
<rect x="961.5" y="1271.4" width="10.1" height="16.1" stroke-width="0.8" fill="none"/>
<path d="M964.1 1271.4L964.1 1287.5" stroke-width="1.6" stroke="#fff"/>
<path d="M963.3 1271.4L963.3 1287.5" stroke-width="0.6"/>
<path d="M964.9 1271.4L964.9 1287.5" stroke-width="0.6"/>
<rect x="951.9" y="1296.6" width="19.7" height="28.5" stroke="#666" stroke-width="1.8"/>
<rect x="951.9" y="1296.6" width="19.7" height="28.5" stroke="#fff" stroke-width="0.6"/>
<rect x="953.9" y="1298.6" width="12.8" height="24.6" />
<circle cx="962.9" cy="1310.9" r="0.9" fill="#555" stroke="none"/>
<rect x="896.1" y="1327.5" width="75.6" height="33.8" stroke="#777" stroke-width="0.6"/>
<path d="M913 1329.8L964.2 1329.8A5.1 5.1 0 0 1 969.3 1334.9L969.3 1353.8A5.1 5.1 0 0 1 964.2 1358.9L913 1358.9A14.5 14.5 0 0 1 898.4 1344.4L898.4 1344.4A14.5 14.5 0 0 1 913 1329.8Z" stroke="#fff" stroke-width="2.2" fill="none"/>
<path d="M913 1329.8L964.2 1329.8A5.1 5.1 0 0 1 969.3 1334.9L969.3 1353.8A5.1 5.1 0 0 1 964.2 1358.9L913 1358.9A14.5 14.5 0 0 1 898.4 1344.4L898.4 1344.4A14.5 14.5 0 0 1 913 1329.8Z" stroke-width="0.8"/>
<circle cx="960.8" cy="1344.4" r="1" fill="#555" stroke="none"/>
<path d="M986.8 1284.9L1002 1284.9A4.9 4.9 0 0 1 1006.9 1289.8L1006.9 1297.6A4.9 4.9 0 0 1 1002 1302.5L986.8 1302.5" stroke="#fff" stroke-width="2" fill="none"/>
<path d="M986.8 1284.9L1002 1284.9A4.9 4.9 0 0 1 1006.9 1289.8L1006.9 1297.6A4.9 4.9 0 0 1 1002 1302.5L986.8 1302.5" stroke-width="0.8"/>
<rect x="976.9" y="1285.2" width="9.9" height="16.9" stroke-width="0.8" fill="none"/>
<path d="M984.3 1285.2L984.3 1302.1" stroke-width="1.6" stroke="#fff"/>
<path d="M983.5 1285.2L983.5 1302.1" stroke-width="0.6"/>
<path d="M985.1 1285.2L985.1 1302.1" stroke-width="0.6"/>
<rect x="998.4" y="1322.2" width="27" height="21.5" stroke="#666" stroke-width="0.6"/>
<path transform="translate(1011.9 1332.9) rotate(0)" d="M-2.7 -3.2L2.4 -2.4L3 2.7L-2.1 3.2Z M-2.7 -3.2L-6.4 -2.4 M2.4 -2.4L1.6 -6.7 M3 2.7L6.7 1.9 M-2.1 3.2L-1.3 7 " stroke-width="0.8"/>
<rect x="1026.9" y="1328.1" width="25" height="15.6" stroke="#666" stroke-width="1.8"/>
<rect x="1026.9" y="1328.1" width="25" height="15.6" stroke="#fff" stroke-width="0.6"/>
<rect x="1028.5" y="1329.6" width="21.9" height="10.1" />
<circle cx="1039.4" cy="1336.7" r="0.9" fill="#555" stroke="none"/>
<rect x="1198.9" y="1257.5" width="26.5" height="21.5" stroke="#666" stroke-width="0.6"/>
<path transform="translate(1212.1 1268.2) rotate(0)" d="M-2.7 -3.2L2.4 -2.4L3 2.7L-2.1 3.2Z M-2.7 -3.2L-6.4 -2.4 M2.4 -2.4L1.6 -6.7 M3 2.7L6.7 1.9 M-2.1 3.2L-1.3 7 " stroke-width="0.8"/>
<path d="M1269.5 1274.6L1253.8 1274.6A4.9 4.9 0 0 0 1248.9 1279.5L1248.9 1287.3A4.9 4.9 0 0 0 1253.8 1292.2L1269.5 1292.2" stroke="#fff" stroke-width="2" fill="none"/>
<path d="M1269.5 1274.6L1253.8 1274.6A4.9 4.9 0 0 0 1248.9 1279.5L1248.9 1287.3A4.9 4.9 0 0 0 1253.8 1292.2L1269.5 1292.2" stroke-width="0.8"/>
<rect x="1269.5" y="1274.9" width="10.2" height="16.9" stroke-width="0.8" fill="none"/>
<path d="M1272.1 1274.9L1272.1 1291.8" stroke-width="1.6" stroke="#fff"/>
<path d="M1271.3 1274.9L1271.3 1291.8" stroke-width="0.6"/>
<path d="M1272.9 1274.9L1272.9 1291.8" stroke-width="0.6"/>
<rect x="1259.1" y="1300.4" width="20.6" height="29.4" stroke="#666" stroke-width="1.8"/>
<rect x="1259.1" y="1300.4" width="20.6" height="29.4" stroke="#fff" stroke-width="0.6"/>
<rect x="1261.2" y="1302.5" width="13.4" height="25.3" />
<circle cx="1270.6" cy="1315.1" r="0.9" fill="#555" stroke="none"/>
<rect x="1204.2" y="1332.8" width="75.6" height="32.9" stroke="#777" stroke-width="0.6"/>
<path d="M1220.6 1335.1L1272.5 1335.1A5 5 0 0 1 1277.4 1340L1277.4 1358.4A5 5 0 0 1 1272.5 1363.4L1220.6 1363.4A14.2 14.2 0 0 1 1206.5 1349.2L1206.5 1349.2A14.2 14.2 0 0 1 1220.6 1335.1Z" stroke="#fff" stroke-width="2.2" fill="none"/>
<path d="M1220.6 1335.1L1272.5 1335.1A5 5 0 0 1 1277.4 1340L1277.4 1358.4A5 5 0 0 1 1272.5 1363.4L1220.6 1363.4A14.2 14.2 0 0 1 1206.5 1349.2L1206.5 1349.2A14.2 14.2 0 0 1 1220.6 1335.1Z" stroke-width="0.8"/>
<circle cx="1268.9" cy="1349.2" r="1" fill="#555" stroke="none"/>
<rect x="1168.6" y="1371.6" width="26.5" height="25" />
<path d="M1181.8 1379.8L1181.8 1388.3" stroke-width="0.9"/>
<path d="M1184.8 1381.1L1178.8 1387.1" stroke-width="0.9"/>
<path d="M1186.1 1384.1L1177.6 1384.1" stroke-width="0.9"/>
<path d="M1184.8 1387.1L1178.8 1381.1" stroke-width="0.9"/>
<rect x="1195.1" y="1371.6" width="18.5" height="25" />
<rect x="1213.6" y="1371.6" width="27.3" height="25" />
<path transform="translate(1227.2 1384.1) rotate(180)" d="M0 4.8 C-0.9 2.7 -3 0.3 -3 -1.8 A3 3 0 1 1 3 -1.8 C3 0.3 0.9 2.7 0 4.8 Z" stroke-width="0.8"/>
<rect x="1242.1" y="1372.2" width="25.9" height="23.5" />
<rect x="1243.4" y="1373.3" width="23.3" height="21.2" />
<rect x="1246" y="1376.4" width="18.1" height="14.1" rx="1"/>
<path d="M1255 1372.2L1255 1383.9" stroke-width="1.6"/>
<circle cx="1255" cy="1384.6" r="0.8" />
<rect x="1268" y="1371.6" width="27.9" height="25" />
<rect x="1268.8" y="1396.6" width="26.5" height="27.6" />
<rect x="1269.4" y="1424.2" width="25.6" height="27" />
<rect x="1273.5" y="1425.6" width="20.2" height="24.3" />
<circle cx="1279" cy="1432.1" r="3.6" />
<circle cx="1288.3" cy="1432.1" r="2.6" />
<circle cx="1279" cy="1443.3" r="2.6" />
<circle cx="1288.3" cy="1443.3" r="3.6" />
<rect x="1268.8" y="1451.2" width="26.5" height="13.8" />
<rect x="1362.5" y="1258.4" width="25.6" height="20.6" stroke="#666" stroke-width="0.6"/>
<path transform="translate(1375.3 1268.7) rotate(180)" d="M-2.6 -3.1L2.3 -2.3L2.9 2.6L-2.1 3.1Z M-2.6 -3.1L-6.2 -2.3 M2.3 -2.3L1.5 -6.4 M2.9 2.6L6.4 1.9 M-2.1 3.1L-1.2 6.7 " stroke-width="0.8"/>
<path d="M1314.5 1281.9L1329.9 1281.9A4.7 4.7 0 0 1 1334.6 1286.6L1334.6 1294A4.7 4.7 0 0 1 1329.9 1298.7L1314.5 1298.7" stroke="#fff" stroke-width="2" fill="none"/>
<path d="M1314.5 1281.9L1329.9 1281.9A4.7 4.7 0 0 1 1334.6 1286.6L1334.6 1294A4.7 4.7 0 0 1 1329.9 1298.7L1314.5 1298.7" stroke-width="0.8"/>
<rect x="1304.6" y="1282.2" width="9.9" height="16.1" stroke-width="0.8" fill="none"/>
<path d="M1312 1282.2L1312 1298.3" stroke-width="1.6" stroke="#fff"/>
<path d="M1311.2 1282.2L1311.2 1298.3" stroke-width="0.6"/>
<path d="M1312.8 1282.2L1312.8 1298.3" stroke-width="0.6"/>
<rect x="1304.6" y="1308.4" width="18.8" height="27.9" stroke="#666" stroke-width="1.8"/>
<rect x="1304.6" y="1308.4" width="18.8" height="27.9" stroke="#fff" stroke-width="0.6"/>
<rect x="1309.3" y="1310.3" width="12.2" height="24.2" />
<circle cx="1313" cy="1322.3" r="0.9" fill="#555" stroke="none"/>
<rect x="1305.8" y="1339.2" width="73.5" height="31.8" stroke="#777" stroke-width="0.6"/>
<path d="M1312.8 1341.5L1363.4 1341.5A13.7 13.7 0 0 1 1377.1 1355.1L1377.1 1355.1A13.7 13.7 0 0 1 1363.4 1368.8L1312.8 1368.8A4.8 4.8 0 0 1 1308 1364L1308 1346.2A4.8 4.8 0 0 1 1312.8 1341.5Z" stroke="#fff" stroke-width="2.2" fill="none"/>
<path d="M1312.8 1341.5L1363.4 1341.5A13.7 13.7 0 0 1 1377.1 1355.1L1377.1 1355.1A13.7 13.7 0 0 1 1363.4 1368.8L1312.8 1368.8A4.8 4.8 0 0 1 1308 1364L1308 1346.2A4.8 4.8 0 0 1 1312.8 1341.5Z" stroke-width="0.8"/>
<circle cx="1316.3" cy="1355.1" r="1" fill="#555" stroke="none"/>
<rect x="1482.2" y="1289.8" width="25.9" height="26.5" />
<path d="M1495.1 1298.7L1495.1 1307.5" stroke-width="0.9"/>
<path d="M1498.2 1300L1492 1306.2" stroke-width="0.9"/>
<path d="M1499.5 1303.1L1490.7 1303.1" stroke-width="0.9"/>
<path d="M1498.2 1306.2L1492 1300" stroke-width="0.9"/>
<rect x="1508.6" y="1289.8" width="26.5" height="26.5" />
<path transform="translate(1521.9 1303.1) rotate(180)" d="M0 5.1 C-1 2.9 -3.2 0.3 -3.2 -1.9 A3.2 3.2 0 1 1 3.2 -1.9 C3.2 0.3 1 2.9 0 5.1 Z" stroke-width="0.8"/>
<rect x="1536" y="1290.4" width="27.9" height="23.8" />
<rect x="1537.4" y="1291.6" width="25.1" height="21.4" />
<rect x="1540.2" y="1294.7" width="19.5" height="14.3" rx="1"/>
<path d="M1549.9 1290.4L1549.9 1302.3" stroke-width="1.6"/>
<circle cx="1549.9" cy="1303.1" r="0.8" />
<rect x="1564.8" y="1289.8" width="27" height="26.5" />
<rect x="1564.8" y="1316.3" width="27" height="25.9" />
<rect x="1566.3" y="1342.2" width="24.7" height="27.3" />
<rect x="1570.2" y="1343.5" width="19.5" height="24.6" />
<circle cx="1575.5" cy="1350.2" r="3.5" />
<circle cx="1584.5" cy="1350.2" r="2.5" />
<circle cx="1575.5" cy="1361.5" r="2.5" />
<circle cx="1584.5" cy="1361.5" r="3.5" />
<rect x="1564.8" y="1369.5" width="27" height="13.8" />
<rect x="1602.1" y="1351" width="25.9" height="26.5" />
<rect x="1628.6" y="1351.6" width="25" height="23.5" />
<rect x="1629.8" y="1352.8" width="22.5" height="21.2" />
<rect x="1632.3" y="1355.8" width="17.5" height="14.1" rx="1"/>
<path d="M1641.1 1351.6L1641.1 1363.3" stroke-width="1.6"/>
<circle cx="1641.1" cy="1364" r="0.8" />
<rect x="1654.5" y="1351" width="22" height="26.5" />
<path transform="translate(1665.5 1364.2) rotate(180)" d="M0 4.2 C-0.8 2.4 -2.6 0.3 -2.6 -1.6 A2.6 2.6 0 1 1 2.6 -1.6 C2.6 0.3 0.8 2.4 0 4.2 Z" stroke-width="0.8"/>
<rect x="1677.1" y="1351" width="26.5" height="26.5" />
<path d="M1690.3 1359.7L1690.3 1368.7" stroke-width="0.9"/>
<path d="M1693.5 1361L1687.1 1367.4" stroke-width="0.9"/>
<path d="M1694.8 1364.2L1685.8 1364.2" stroke-width="0.9"/>
<path d="M1693.5 1367.4L1687.1 1361" stroke-width="0.9"/>
<rect x="1602.1" y="1377.5" width="25.9" height="27" />
<rect x="1602.7" y="1404.8" width="24.4" height="26.5" />
<rect x="1603.9" y="1406.1" width="19.3" height="23.8" />
<circle cx="1609.1" cy="1412.5" r="2.5" />
<circle cx="1618" cy="1412.5" r="3.5" />
<circle cx="1609.1" cy="1423.5" r="3.5" />
<circle cx="1618" cy="1423.5" r="2.5" />
<rect x="1602.1" y="1431.3" width="25.9" height="13.8" />
<path d="M1879.6 1020.3L1864 1020.3A4.7 4.7 0 0 0 1859.3 1025L1859.3 1032.3A4.7 4.7 0 0 0 1864 1037L1879.6 1037" stroke="#fff" stroke-width="2" fill="none"/>
<path d="M1879.6 1020.3L1864 1020.3A4.7 4.7 0 0 0 1859.3 1025L1859.3 1032.3A4.7 4.7 0 0 0 1864 1037L1879.6 1037" stroke-width="0.8"/>
<rect x="1879.6" y="1020.6" width="10" height="16.1" stroke-width="0.8" fill="none"/>
<path d="M1882.1 1020.6L1882.1 1036.7" stroke-width="1.6" stroke="#fff"/>
<path d="M1881.3 1020.6L1881.3 1036.7" stroke-width="0.6"/>
<path d="M1882.9 1020.6L1882.9 1036.7" stroke-width="0.6"/>
<rect x="1873.4" y="1042.3" width="16.2" height="24.1" stroke="#666" stroke-width="1.8"/>
<rect x="1873.4" y="1042.3" width="16.2" height="24.1" stroke="#fff" stroke-width="0.6"/>
<rect x="1875" y="1043.9" width="10.5" height="20.9" />
<circle cx="1882.4" cy="1054.4" r="0.9" fill="#555" stroke="none"/>
<rect x="1850.5" y="1074.1" width="53.8" height="35.3" stroke="#777" stroke-width="0.6"/>
<rect x="1853.2" y="1075.8" width="48.4" height="31.8" rx="3" stroke="#fff" stroke-width="2.2"/>
<rect x="1853.2" y="1075.8" width="48.4" height="31.8" rx="3" stroke-width="0.8"/>
<path d="M1858.7 1080.5L1896.9 1101.1" stroke-width="0.8"/>
<path d="M1899.9 1080.5L1899.9 1098.2" stroke-width="0.7"/>
<path d="M1857.2 1101.7L1894 1101.7" stroke-width="0.7"/>
<circle cx="1897.5" cy="1101.7" r="1.2" fill="#555" stroke="none"/>
<rect x="1826.4" y="1120.2" width="25" height="14.7" stroke="#666" stroke-width="1.8"/>
<rect x="1826.4" y="1120.2" width="25" height="14.7" stroke="#fff" stroke-width="0.6"/>
<rect x="1827.8" y="1123.9" width="22" height="9.6" />
<circle cx="1838.9" cy="1126.8" r="0.9" fill="#555" stroke="none"/>
<rect x="1853.4" y="1119.3" width="27.3" height="21.5" stroke="#666" stroke-width="0.6"/>
<path transform="translate(1867.1 1130.1) rotate(180)" d="M-2.7 -3.2L2.4 -2.4L3 2.7L-2.1 3.2Z M-2.7 -3.2L-6.4 -2.4 M2.4 -2.4L1.6 -6.7 M3 2.7L6.7 1.9 M-2.1 3.2L-1.3 7 " stroke-width="0.8"/>
<path d="M1874.6 1162L1859.1 1162A4.8 4.8 0 0 0 1854.3 1166.7L1854.3 1174.2A4.8 4.8 0 0 0 1859.1 1179L1874.6 1179" stroke="#fff" stroke-width="2" fill="none"/>
<path d="M1874.6 1162L1859.1 1162A4.8 4.8 0 0 0 1854.3 1166.7L1854.3 1174.2A4.8 4.8 0 0 0 1859.1 1179L1874.6 1179" stroke-width="0.8"/>
<rect x="1874.6" y="1162.3" width="10" height="16.4" stroke-width="0.8" fill="none"/>
<path d="M1877.1 1162.3L1877.1 1178.7" stroke-width="1.6" stroke="#fff"/>
<path d="M1876.3 1162.3L1876.3 1178.7" stroke-width="0.6"/>
<path d="M1877.9 1162.3L1877.9 1178.7" stroke-width="0.6"/>
<rect x="1910.2" y="1006.4" width="26.5" height="25.6" />
<path transform="translate(1923.4 1019.2) rotate(90)" d="M0 4.9 C-0.9 2.8 -3.1 0.3 -3.1 -1.8 A3.1 3.1 0 1 1 3.1 -1.8 C3.1 0.3 0.9 2.8 0 4.9 Z" stroke-width="0.8"/>
<rect x="1911" y="1033.5" width="24.1" height="26.5" />
<rect x="1912.2" y="1034.8" width="21.7" height="23.8" />
<rect x="1914.6" y="1038.3" width="16.9" height="15.9" rx="1"/>
<path d="M1911 1046.7L1923.1 1046.7" stroke-width="1.6"/>
<circle cx="1923.8" cy="1046.7" r="0.8" />
<rect x="1910.2" y="1060" width="26.5" height="27" />
<rect x="1911" y="1087.9" width="24.1" height="25.6" />
<rect x="1912.2" y="1089.2" width="19" height="23" />
<circle cx="1917.4" cy="1095.4" r="2.5" />
<circle cx="1926.1" cy="1095.4" r="3.4" />
<circle cx="1917.4" cy="1106" r="3.4" />
<circle cx="1926.1" cy="1106" r="2.5" />
<rect x="1910.2" y="1113.5" width="26.5" height="18.5" />
<rect x="1910.2" y="1132" width="26.5" height="25.6" />
<path d="M1923.4 1140.4L1923.4 1149.1" stroke-width="0.9"/>
<path d="M1926.5 1141.7L1920.3 1147.8" stroke-width="0.9"/>
<path d="M1927.7 1144.8L1919 1144.8" stroke-width="0.9"/>
<path d="M1926.5 1147.8L1920.3 1141.7" stroke-width="0.9"/>
<rect x="1925.7" y="1168.7" width="26.5" height="25.9" />
<path transform="translate(1939 1181.7) rotate(180)" d="M0 5 C-0.9 2.8 -3.1 0.3 -3.1 -1.9 A3.1 3.1 0 1 1 3.1 -1.9 C3.1 0.3 0.9 2.8 0 5 Z" stroke-width="0.8"/>
<rect x="1952.8" y="1169.3" width="26.5" height="23.5" />
<rect x="1954.1" y="1170.5" width="23.8" height="21.2" />
<rect x="1956.7" y="1173.5" width="18.5" height="14.1" rx="1"/>
<path d="M1966 1169.3L1966 1181.1" stroke-width="1.6"/>
<circle cx="1966" cy="1181.8" r="0.8" />
<rect x="1979.2" y="1168.7" width="27" height="25.9" />
<rect x="2007.2" y="1169.6" width="25.6" height="24.1" />
<rect x="2008.4" y="1170.8" width="23" height="19" />
<circle cx="2014.7" cy="1176" r="2.5" />
<circle cx="2025.2" cy="1176" r="3.4" />
<circle cx="2014.7" cy="1184.7" r="3.4" />
<circle cx="2025.2" cy="1184.7" r="2.5" />
<rect x="2032.7" y="1168.7" width="18.5" height="25.9" />
<rect x="2051.3" y="1168.7" width="26.5" height="25.9" />
<path d="M2064.5 1177.3L2064.5 1186.1" stroke-width="0.9"/>
<path d="M2067.6 1178.6L2061.4 1184.8" stroke-width="0.9"/>
<path d="M2068.9 1181.7L2060.1 1181.7" stroke-width="0.9"/>
<path d="M2067.6 1184.8L2061.4 1178.6" stroke-width="0.9"/>
<rect x="1810.2" y="1274" width="25.9" height="21.2" stroke="#666" stroke-width="0.6"/>
<path transform="translate(1823.1 1284.6) rotate(0)" d="M-2.6 -3.2L2.3 -2.3L3 2.6L-2.1 3.2Z M-2.6 -3.2L-6.4 -2.3 M2.3 -2.3L1.6 -6.6 M3 2.6L6.6 1.9 M-2.1 3.2L-1.3 6.9 " stroke-width="0.8"/>
<path d="M1882.3 1286.3L1866.2 1286.3A4.5 4.5 0 0 0 1861.6 1290.8L1861.6 1298A4.5 4.5 0 0 0 1866.2 1302.5L1882.3 1302.5" stroke="#fff" stroke-width="2" fill="none"/>
<path d="M1882.3 1286.3L1866.2 1286.3A4.5 4.5 0 0 0 1861.6 1290.8L1861.6 1298A4.5 4.5 0 0 0 1866.2 1302.5L1882.3 1302.5" stroke-width="0.8"/>
<rect x="1882.3" y="1286.6" width="10.2" height="15.5" stroke-width="0.8" fill="none"/>
<path d="M1884.9 1286.6L1884.9 1302.2" stroke-width="1.6" stroke="#fff"/>
<path d="M1884.1 1286.6L1884.1 1302.2" stroke-width="0.6"/>
<path d="M1885.7 1286.6L1885.7 1302.2" stroke-width="0.6"/>
<rect x="1872.8" y="1311.3" width="19.7" height="29.4" stroke="#666" stroke-width="1.8"/>
<rect x="1872.8" y="1311.3" width="19.7" height="29.4" stroke="#fff" stroke-width="0.6"/>
<rect x="1874.8" y="1313.3" width="12.8" height="25.5" />
<circle cx="1883.7" cy="1326" r="0.9" fill="#555" stroke="none"/>
<rect x="1816.1" y="1343.6" width="75.6" height="32.3" stroke="#777" stroke-width="0.6"/>
<path d="M1832.2 1345.9L1884.5 1345.9A4.9 4.9 0 0 1 1889.4 1350.8L1889.4 1368.9A4.9 4.9 0 0 1 1884.5 1373.7L1832.2 1373.7A13.9 13.9 0 0 1 1818.3 1359.8L1818.3 1359.8A13.9 13.9 0 0 1 1832.2 1345.9Z" stroke="#fff" stroke-width="2.2" fill="none"/>
<path d="M1832.2 1345.9L1884.5 1345.9A4.9 4.9 0 0 1 1889.4 1350.8L1889.4 1368.9A4.9 4.9 0 0 1 1884.5 1373.7L1832.2 1373.7A13.9 13.9 0 0 1 1818.3 1359.8L1818.3 1359.8A13.9 13.9 0 0 1 1832.2 1345.9Z" stroke-width="0.8"/>
<circle cx="1880.8" cy="1359.8" r="1" fill="#555" stroke="none"/>
<rect x="1902.2" y="1253.4" width="75.6" height="32.3" stroke="#777" stroke-width="0.6"/>
<path d="M1909.3 1255.7L1961.6 1255.7A13.9 13.9 0 0 1 1975.5 1269.6L1975.5 1269.6A13.9 13.9 0 0 1 1961.6 1283.5L1909.3 1283.5A4.9 4.9 0 0 1 1904.5 1278.6L1904.5 1260.5A4.9 4.9 0 0 1 1909.3 1255.7Z" stroke="#fff" stroke-width="2.2" fill="none"/>
<path d="M1909.3 1255.7L1961.6 1255.7A13.9 13.9 0 0 1 1975.5 1269.6L1975.5 1269.6A13.9 13.9 0 0 1 1961.6 1283.5L1909.3 1283.5A4.9 4.9 0 0 1 1904.5 1278.6L1904.5 1260.5A4.9 4.9 0 0 1 1909.3 1255.7Z" stroke-width="0.8"/>
<circle cx="1913" cy="1269.6" r="1" fill="#555" stroke="none"/>
<path d="M1912.1 1296.6L1927.7 1296.6A4.5 4.5 0 0 1 1932.2 1301.1L1932.2 1308.3A4.5 4.5 0 0 1 1927.7 1312.8L1912.1 1312.8" stroke="#fff" stroke-width="2" fill="none"/>
<path d="M1912.1 1296.6L1927.7 1296.6A4.5 4.5 0 0 1 1932.2 1301.1L1932.2 1308.3A4.5 4.5 0 0 1 1927.7 1312.8L1912.1 1312.8" stroke-width="0.8"/>
<rect x="1902.2" y="1296.9" width="9.9" height="15.5" stroke-width="0.8" fill="none"/>
<path d="M1909.6 1296.9L1909.6 1312.5" stroke-width="1.6" stroke="#fff"/>
<path d="M1908.8 1296.9L1908.8 1312.5" stroke-width="0.6"/>
<path d="M1910.4 1296.9L1910.4 1312.5" stroke-width="0.6"/>
<rect x="1920.4" y="1321.6" width="16.2" height="28.8" stroke="#666" stroke-width="1.8"/>
<rect x="1920.4" y="1321.6" width="16.2" height="28.8" stroke="#fff" stroke-width="0.6"/>
<rect x="1924.5" y="1323.2" width="10.5" height="25.6" />
<circle cx="1927.6" cy="1336" r="0.9" fill="#555" stroke="none"/>
<rect x="1918.1" y="1355.4" width="21.5" height="26.5" stroke="#666" stroke-width="0.6"/>
<path transform="translate(1928.8 1368.6) rotate(0)" d="M-2.7 -3.2L2.4 -2.4L3 2.7L-2.1 3.2Z M-2.7 -3.2L-6.4 -2.4 M2.4 -2.4L1.6 -6.7 M3 2.7L6.7 1.9 M-2.1 3.2L-1.3 7 " stroke-width="0.8"/></g>
<g fill="none" stroke="#161616" stroke-width="1.05"><path d="M857.9 833.4L830.7 806.2A38.4 38.4 0 0 1 857.9 795"/>
<path d="M904.9 788.4L877.1 816.2A39.3 39.3 0 0 1 865.6 789.9"/>
<path d="M857.9 951.6L831 924.7A37.9 37.9 0 0 1 857.9 913.6"/>
<path d="M914.3 876L941.8 848.5A38.9 38.9 0 0 1 953.2 875.1"/>
<path d="M1093 1019.8L1125.7 986.5A46.6 46.6 0 0 0 1093 973.2"/>
<path d="M1067.5 1029.5L1040.1 1002.4A38.5 38.5 0 0 0 1029 1029.5"/>
<path d="M1123.9 817.8L1096.6 790.2A38.8 38.8 0 0 1 1123.9 779"/>
<path d="M1194.5 920.7L1167.2 893.5A38.5 38.5 0 0 1 1194.5 882.2"/>
<path d="M1126.9 953L1161.3 986A47.6 47.6 0 0 0 1174.5 953"/>
<path d="M1166.5 625.3L1197.8 653.5A42.1 42.1 0 0 0 1208.7 625.3"/>
<path d="M1434.7 821.6L1406.1 792.4A40.9 40.9 0 0 0 1393.8 821.6"/>
<path d="M1389.7 899.2L1418.2 873.1A38.7 38.7 0 0 0 1389.7 860.6"/>
<path d="M1392.6 953L1426.7 986.2A47.6 47.6 0 0 0 1440.2 953"/>
<path d="M1463.2 679.3L1487 704A34.3 34.3 0 0 0 1497.5 679.3"/>
<path d="M1713.9 623.8L1684.1 653.6A42.2 42.2 0 0 1 1671.7 623.8"/>
<path d="M1727.2 953L1693.4 985.9A47.1 47.1 0 0 1 1680 953"/>
<path d="M1761.9 862.8L1789.7 834.9A39.4 39.4 0 0 1 1801.3 862.8"/>
<path d="M1808 904.5L1780.4 877.8A38.4 38.4 0 0 1 1808 866.1"/>
<path d="M1984.6 906L2012.2 879.6A38.2 38.2 0 0 0 1984.6 867.8"/>
<path d="M2031.6 783.4L2004.3 755.3A39.2 39.2 0 0 0 1992.4 783.4"/>
<path d="M2035.1 828.1L2063.3 801.4A38.8 38.8 0 0 0 2035.1 789.3"/>
<path d="M2035.1 951L2007.7 924.2A38.4 38.4 0 0 1 2035.1 912.6"/>
<path d="M757 1073.2L784.1 1099.4A37.7 37.7 0 0 1 757 1110.9"/>
<path d="M1093 1196.7L1125.8 1229.5A46.4 46.4 0 0 1 1093 1243"/>
<path d="M1126.9 1249.6L1160.3 1216.1A47.3 47.3 0 0 1 1174.2 1249.6"/>
<path d="M932.8 1249.6L906.1 1222.8A37.8 37.8 0 0 0 895 1249.6"/>
<path d="M1056.3 1249.6L1032.3 1225.6A33.9 33.9 0 0 0 1022.3 1249.6"/>
<path d="M841.1 1348.6L813.9 1375.8A38.4 38.4 0 0 0 841.1 1387.1"/>
<path d="M844.6 1393.6L873.7 1422.4A40.8 40.8 0 0 0 885.5 1393.6"/>
<path d="M1195.9 1288.7L1168.5 1315.8A38.6 38.6 0 0 0 1195.9 1327.3"/>
<path d="M1120.1 1398.6L1092.4 1426A39 39 0 0 0 1120.1 1437.6"/>
<path d="M1449.8 1033.5L1416.2 1065A46.1 46.1 0 0 1 1403.8 1033.5"/>
<path d="M1449.8 1168.7L1416.4 1136.8A46.3 46.3 0 0 0 1403.6 1168.7"/>
<path d="M1391.9 1295.1L1419.5 1321.9A38.4 38.4 0 0 1 1391.9 1333.6"/>
<path d="M1395.8 1249.6L1429 1216.1A47.2 47.2 0 0 1 1443 1249.6"/>
<path d="M1436 1376L1406.3 1403.7A40.7 40.7 0 0 1 1395.4 1376"/>
<path d="M1757.3 1018.8L1723.1 986.1A47.3 47.3 0 0 1 1757.3 971.5"/>
<path d="M1757.3 1182.8L1723.1 1215.6A47.3 47.3 0 0 0 1757.3 1230.2"/>
<path d="M1723.5 1249.6L1689.6 1216.3A47.5 47.5 0 0 0 1676 1249.6"/>
<path d="M1824 1008.5L1848 983.9A34.4 34.4 0 0 1 1858.4 1008.5"/>
<path d="M1824 1195.2L1847.9 1220.2A34.6 34.6 0 0 0 1858.6 1195.2"/>
<path d="M2121.8 1066.4L2095.8 1092.7A37 37 0 0 0 2121.8 1103.4"/>
<path d="M1986.6 1335.7L2014.6 1362.3A38.6 38.6 0 0 1 1986.6 1374.3"/>
<path d="M2040.1 1339.8L2067.4 1368A39.2 39.2 0 0 1 2040.1 1379"/>
<path d="M2033.6 1386.3L2004.8 1413A39.3 39.3 0 0 1 1994.3 1386.3"/>
<path d="M1807.3 1300.4L1779.7 1326.5A37.9 37.9 0 0 0 1807.3 1338.3"/>
<path d="M1761.1 1348.6L1790.4 1376.8A40.6 40.6 0 0 0 1801.7 1348.6"/>
<path d="M757 1531.9L780.7 1507.7A33.9 33.9 0 0 1 790.9 1531.9"/>
<path d="M724.1 1588.1L742.5 1569.4A26.2 26.2 0 0 1 750.3 1588.1"/>
<path d="M756.4 1588.1L775.7 1569.4A26.8 26.8 0 0 1 783.3 1588.1"/>
<path d="M817.6 1588.1L796.4 1569.3A28.4 28.4 0 0 0 789.2 1588.1"/>
<path d="M956.3 1585.7L932.1 1563.6A32.8 32.8 0 0 0 923.5 1585.7"/>
<path d="M1090.1 1585.7L1066.6 1563.7A32.3 32.3 0 0 0 1057.8 1585.7"/>
<path d="M1164.5 1585.7L1185.4 1567.2A28 28 0 0 1 1192.5 1585.7"/>
<path d="M1463.7 1531.4L1487.2 1507.9A33.2 33.2 0 0 1 1496.9 1531.4"/>
<path d="M1720.3 1585.7L1697.4 1563.4A32 32 0 0 0 1688.4 1585.7"/>
<path d="M2061.6 1531.9L2085.2 1507.8A33.7 33.7 0 0 1 2095.3 1531.9"/></g>
<g><rect x="286.5" y="261.5" width="440" height="101" rx="50.5" fill="#82c341"/>
<path d="M1012.5 262.5L1927.5 262.5" stroke="#8f8f8f" stroke-width="1.6" fill="none"/>
<path d="M1012.5 338.5L1927.5 338.5" stroke="#8f8f8f" stroke-width="1.6" fill="none"/>
<path d="M1012.5 1921.5L1927.5 1921.5" stroke="#8f8f8f" stroke-width="1.6" fill="none"/>
<path d="M1012.5 1998L1927.5 1998" stroke="#8f8f8f" stroke-width="1.6" fill="none"/>
<path d="M284.7 634.5L284.7 1515" stroke="#8f8f8f" stroke-width="1.6" fill="none"/>
<path d="M361 634.5L361 1515" stroke="#8f8f8f" stroke-width="1.6" fill="none"/>
<path d="M2512.7 634.5L2512.7 1515" stroke="#8f8f8f" stroke-width="1.6" fill="none"/>
<path d="M2589 634.5L2589 1515" stroke="#8f8f8f" stroke-width="1.6" fill="none"/>
<path d="M410.7 1989.6A164 164 0 1 1 501.5 1674.4" fill="none" stroke="#f29c1f" stroke-width="3" stroke-dasharray="14 11"/>
<path d="M501.5 1674.4A164 164 0 0 1 410.7 1989.6" fill="none" stroke="#d3d3d3" stroke-width="3" stroke-dasharray="14 11"/>
<path d="M491 1661L501.6 1674L486 1682" fill="none" stroke="#f29c1f" stroke-width="3.2"/>
<circle cx="411.9" cy="1985.2" r="29.2" fill="#ebebeb"/>
<circle cx="411.9" cy="1985.2" r="8.6" fill="#f29c1f"/>
<path d="M422.8 1989.6L428.9 1992.1" stroke="#f29c1f" stroke-width="1.8" fill="none"/>
<path d="M416.5 1996.1L419.1 2002" stroke="#f29c1f" stroke-width="1.8" fill="none"/>
<path d="M407.5 1996.1L405 2002.2" stroke="#f29c1f" stroke-width="1.8" fill="none"/>
<path d="M401 1989.8L395.1 1992.4" stroke="#f29c1f" stroke-width="1.8" fill="none"/>
<path d="M401 1980.8L394.9 1978.3" stroke="#f29c1f" stroke-width="1.8" fill="none"/>
<path d="M407.3 1974.3L404.7 1968.4" stroke="#f29c1f" stroke-width="1.8" fill="none"/>
<path d="M416.3 1974.3L418.8 1968.2" stroke="#f29c1f" stroke-width="1.8" fill="none"/>
<path d="M422.8 1980.6L428.7 1978" stroke="#f29c1f" stroke-width="1.8" fill="none"/>
<circle cx="459.8" cy="1830" r="66" fill="none" stroke="#1e1e1e" stroke-width="2.6"/>
<path d="M459.8 1830L523.5 1846.8" stroke="#1e1e1e" stroke-width="2.6" fill="none"/>
<rect x="1517.6" y="937.5" width="73.5" height="10.3" fill="#fff" stroke="#333" stroke-width="0.6"/>
<rect x="1187.6" y="1079.9" width="213.1" height="41.2" fill="#fff" stroke="#333" stroke-width="0.7"/>
<rect x="1187.6" y="1082.3" width="211.1" height="36.7" fill="none" stroke="#555" stroke-width="0.5"/>
<path d="M1244.1 1033.5L1244.1 1079.9" stroke="#2a2a2a" stroke-width="0.9"/>
<path d="M1244.1 1121.1L1244.1 1169.3" stroke="#2a2a2a" stroke-width="0.9"/>
<path d="M1257.6 1033.5L1257.6 1079.9" stroke="#2a2a2a" stroke-width="0.9"/>
<path d="M1257.6 1121.1L1257.6 1169.3" stroke="#2a2a2a" stroke-width="0.9"/>
<path d="M1271.2 1033.5L1271.2 1079.9" stroke="#2a2a2a" stroke-width="0.9"/>
<path d="M1271.2 1121.1L1271.2 1169.3" stroke="#2a2a2a" stroke-width="0.9"/>
<path d="M1284.8 1121.1L1284.8 1169.3" stroke="#2a2a2a" stroke-width="0.9"/>
<path d="M1298.4 1033.5L1298.4 1079.9" stroke="#2a2a2a" stroke-width="0.9"/>
<path d="M1298.4 1121.1L1298.4 1169.3" stroke="#2a2a2a" stroke-width="0.9"/>
<path d="M1312 1033.5L1312 1079.9" stroke="#2a2a2a" stroke-width="0.9"/>
<path d="M1312 1121.1L1312 1169.3" stroke="#2a2a2a" stroke-width="0.9"/>
<path d="M1325.6 1033.5L1325.6 1079.9" stroke="#2a2a2a" stroke-width="0.9"/>
<path d="M1325.6 1121.1L1325.6 1169.3" stroke="#2a2a2a" stroke-width="0.9"/>
<path d="M1339.1 1033.5L1339.1 1079.9" stroke="#2a2a2a" stroke-width="0.9"/>
<path d="M1339.1 1121.1L1339.1 1169.3" stroke="#2a2a2a" stroke-width="0.9"/>
<path d="M1352.7 1033.5L1352.7 1079.9" stroke="#2a2a2a" stroke-width="0.9"/>
<path d="M1352.7 1121.1L1352.7 1169.3" stroke="#2a2a2a" stroke-width="0.9"/>
<path d="M1366.3 1033.5L1366.3 1079.9" stroke="#2a2a2a" stroke-width="0.9"/>
<path d="M1366.3 1121.1L1366.3 1169.3" stroke="#2a2a2a" stroke-width="0.9"/>
<path d="M1379.9 1033.5L1379.9 1079.9" stroke="#2a2a2a" stroke-width="0.9"/>
<path d="M1379.9 1121.1L1379.9 1169.3" stroke="#2a2a2a" stroke-width="0.9"/>
<path d="M1393.5 1033.5L1393.5 1079.9" stroke="#2a2a2a" stroke-width="0.9"/>
<path d="M1393.5 1121.1L1393.5 1169.3" stroke="#2a2a2a" stroke-width="0.9"/>
<path d="M1271.4 1033.5L1277.3 1033.5L1297.9 1079.9L1292 1079.9Z" fill="#fff" stroke="#333" stroke-width="0.7"/>
<path d="M1393.4 1056.4L1305.2 1056.4" stroke="#222" stroke-width="0.8"/>
<path d="M1297.9 1056.4L1308.1 1052L1308.1 1060.8Z" fill="#111"/>
<path d="M1244.1 1145.2L1384.6 1145.2" stroke="#222" stroke-width="0.8"/>
<path d="M1391.9 1145.2L1381.6 1140.8L1381.6 1149.6Z" fill="#111"/>
<rect x="1626.2" y="1164.9" width="93.5" height="8.2" fill="#fff" stroke="#333" stroke-width="0.6"/>
<rect x="1632.1" y="1035.8" width="75.8" height="115.2" fill="#fff" stroke="#333" stroke-width="0.8"/>
<rect x="1634.5" y="1038.2" width="71.1" height="110.5" fill="none" stroke="#333" stroke-width="0.7"/>
<path d="M1634.5 1038.2L1705.6 1148.7" stroke="#222" stroke-width="0.8"/>
<path d="M1705.6 1038.2L1634.5 1148.7" stroke="#222" stroke-width="0.8"/>
<rect x="1485.4" y="1252.5" width="105.8" height="11.8" fill="#fff" stroke="#333" stroke-width="0.6"/></g>
<g><text x="506.7" y="327" font-size="50" fill="#fff" text-anchor="middle" textLength="346" lengthAdjust="spacingAndGlyphs">План 2 этажа</text>
<text x="1440.3" y="314.2" font-size="45" fill="#4a4a4c" text-anchor="middle" textLength="620" lengthAdjust="spacingAndGlyphs">Межквартальный проезд</text>
<text x="1474" y="1973.3" font-size="45" fill="#4a4a4c" text-anchor="middle" textLength="219" lengthAdjust="spacingAndGlyphs">Секция 7</text>
<text transform="translate(336.3 1100.5) rotate(-90)" font-size="45" fill="#4a4a4c" text-anchor="middle" textLength="543" lengthAdjust="spacingAndGlyphs">Пешеходный бульвар</text>
<text transform="translate(2566 1092.6) rotate(-90)" font-size="45" fill="#4a4a4c" text-anchor="middle" textLength="119" lengthAdjust="spacingAndGlyphs">Двор</text>
<text transform="translate(477 1734.7) rotate(14.5)" font-size="36" fill="#111" text-anchor="middle" y="12.9">З</text>
<text transform="translate(362.4 1803.5) rotate(14.5)" font-size="36" fill="#111" text-anchor="middle" y="12.9">Ю</text>
<text transform="translate(553.9 1850) rotate(14.5)" font-size="36" fill="#111" text-anchor="middle" y="12.9">С</text>
<text transform="translate(435.9 1916.4) rotate(14.5)" font-size="36" fill="#111" text-anchor="middle" y="12.9">В</text>
<text x="779.2" y="749.3" font-size="19.5" font-weight="bold" fill="#55565a" text-anchor="middle" textLength="67.9" lengthAdjust="spacingAndGlyphs">12,9 м²</text>
<text x="918.1" y="723.8" font-size="19.5" font-weight="bold" fill="#55565a" text-anchor="middle" textLength="70.6" lengthAdjust="spacingAndGlyphs">10,0 м²</text>
<text x="786.1" y="925.1" font-size="19.5" font-weight="bold" fill="#55565a" text-anchor="middle" textLength="65.3" lengthAdjust="spacingAndGlyphs">10,1 м²</text>
<text x="948.7" y="837.8" font-size="19.5" font-weight="bold" fill="#55565a" text-anchor="middle" textLength="55.3" lengthAdjust="spacingAndGlyphs">3,1 м²</text>
<text x="945.3" y="918.4" font-size="19.5" font-weight="bold" fill="#55565a" text-anchor="middle" textLength="55.6" lengthAdjust="spacingAndGlyphs">3,1 м²</text>
<text x="1046.4" y="923.7" font-size="19.5" font-weight="bold" fill="#55565a" text-anchor="middle" textLength="57.9" lengthAdjust="spacingAndGlyphs">3,7 м²</text>
<text x="1039.4" y="994.2" font-size="19.5" font-weight="bold" fill="#55565a" text-anchor="middle" textLength="60.3" lengthAdjust="spacingAndGlyphs">3,3 м²</text>
<text transform="translate(891.1 885.4) rotate(-90)" font-size="19.5" font-weight="bold" fill="#55565a" text-anchor="middle" textLength="58.8" lengthAdjust="spacingAndGlyphs">3,8 м²</text>
<text x="877" y="1075.5" font-size="19.5" font-weight="bold" fill="#55565a" text-anchor="middle" textLength="67.6" lengthAdjust="spacingAndGlyphs">18,2 м²</text>
<text x="1038.7" y="1073.2" font-size="19.5" font-weight="bold" fill="#55565a" text-anchor="middle" textLength="61.7" lengthAdjust="spacingAndGlyphs">4,4 м²</text>
<text transform="translate(733.8 1081.6) rotate(-90)" font-size="19.5" font-weight="bold" fill="#55565a" text-anchor="middle" textLength="116.7" lengthAdjust="spacingAndGlyphs">1,8/(3,6) м²</text></g>
</svg>
</body></html>
